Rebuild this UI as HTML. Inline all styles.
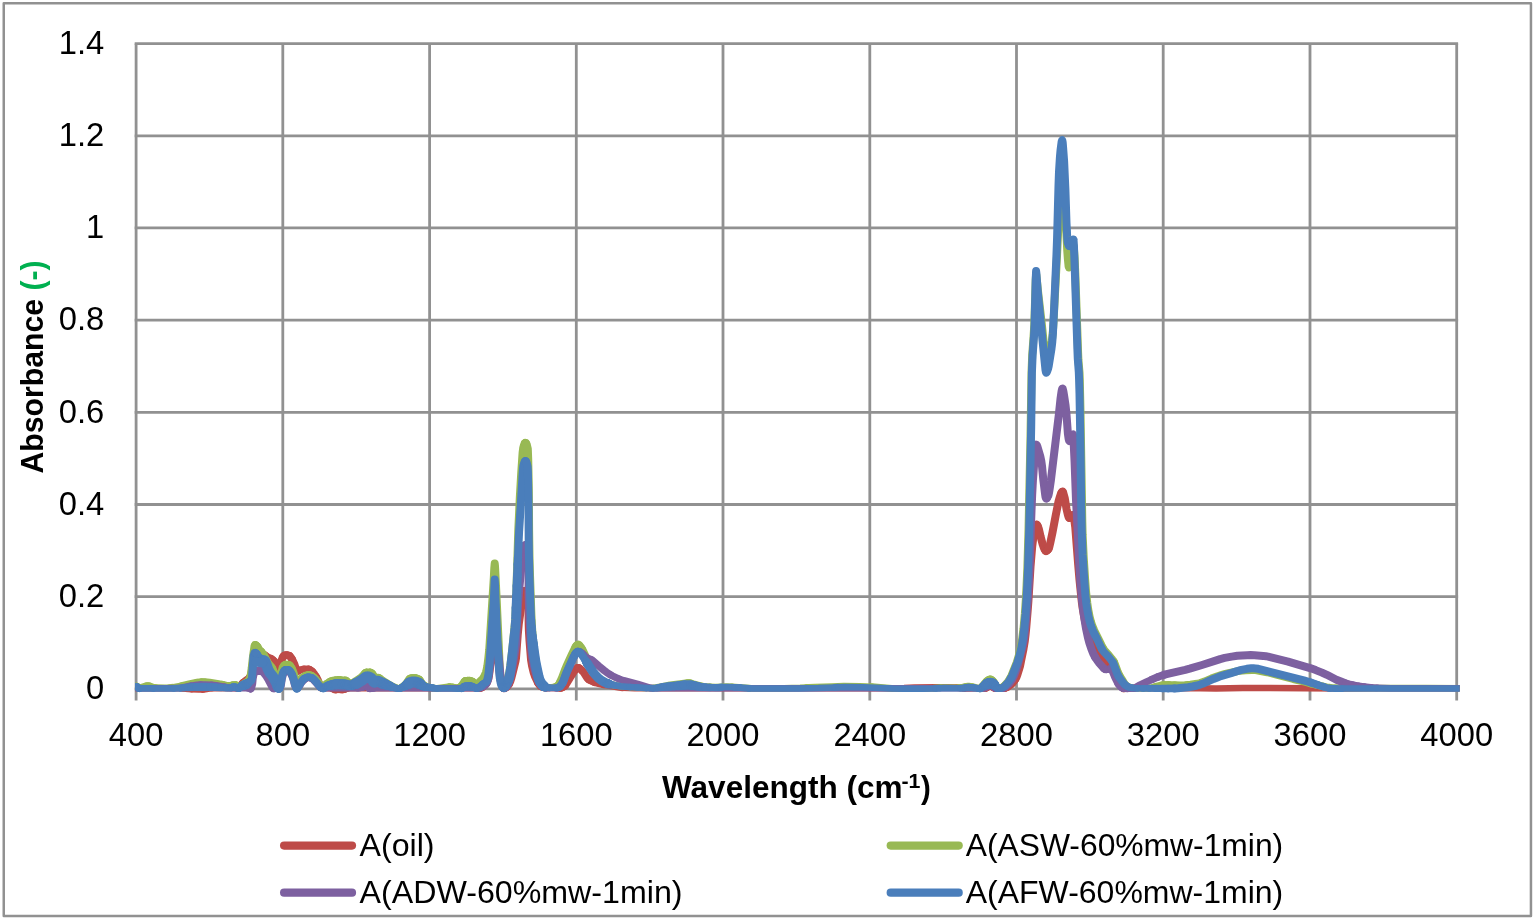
<!DOCTYPE html>
<html lang="en"><head><meta charset="utf-8"><title>Absorbance vs Wavelength</title>
<style>
html,body{margin:0;padding:0;background:#fff;}
body{width:1534px;height:920px;overflow:hidden;}
svg{display:block;}
text{font-family:"Liberation Sans",sans-serif;fill:#000;}
.b{font-weight:bold;}
</style></head><body>
<svg width="1534" height="920" viewBox="0 0 1534 920">
<rect x="0" y="0" width="1534" height="920" fill="#fff"/>
<rect x="3.75" y="3.15" width="1527.2" height="912.85" fill="none" stroke="#919191" stroke-width="2.5" stroke-linejoin="round"/>
<clipPath id="cp"><rect x="135.45" y="0" width="1324.25" height="920"/></clipPath>
<g stroke="#919191" stroke-width="2.8" fill="none"><line x1="134.7" y1="43.6" x2="1458.1" y2="43.6"/><line x1="134.7" y1="135.8" x2="1458.1" y2="135.8"/><line x1="134.7" y1="227.9" x2="1458.1" y2="227.9"/><line x1="134.7" y1="320.1" x2="1458.1" y2="320.1"/><line x1="134.7" y1="412.3" x2="1458.1" y2="412.3"/><line x1="134.7" y1="504.5" x2="1458.1" y2="504.5"/><line x1="134.7" y1="596.6" x2="1458.1" y2="596.6"/><line x1="134.7" y1="688.8" x2="1458.1" y2="688.8"/><line x1="136.1" y1="43.6" x2="136.1" y2="700.4"/><line x1="282.8" y1="43.6" x2="282.8" y2="700.4"/><line x1="429.6" y1="43.6" x2="429.6" y2="700.4"/><line x1="576.3" y1="43.6" x2="576.3" y2="700.4"/><line x1="723.0" y1="43.6" x2="723.0" y2="700.4"/><line x1="869.8" y1="43.6" x2="869.8" y2="700.4"/><line x1="1016.5" y1="43.6" x2="1016.5" y2="700.4"/><line x1="1163.2" y1="43.6" x2="1163.2" y2="700.4"/><line x1="1310.0" y1="43.6" x2="1310.0" y2="700.4"/><line x1="1456.7" y1="43.6" x2="1456.7" y2="700.4"/></g>
<g clip-path="url(#cp)">
<g fill="none" stroke="#BE4B48" stroke-linejoin="round" stroke-linecap="round"><path d="M133.4 688.2 L180.0 688.2 L182.4 688.3" stroke-width="6.50"/><path d="M182.4 688.3 L191.5 689.2" stroke-width="6.75"/><path d="M191.5 689.2 L198.9 689.5 L203.1 689.5" stroke-width="6.50"/><path d="M203.1 689.5 L205.2 689.2 L209.4 688.4 L211.5 688.2" stroke-width="6.75"/><path d="M211.5 688.2 L237.4 688.2" stroke-width="6.50"/><path d="M237.4 688.2 L238.0 688.2" stroke-width="6.75"/><path d="M238.0 688.2 L238.4 688.1" stroke-width="7.00"/><path d="M238.4 688.1 L238.8 687.9" stroke-width="7.25"/><path d="M238.8 687.9 L239.5 687.2" stroke-width="7.50"/><path d="M239.5 687.2 L241.6 684.4 L243.0 682.9" stroke-width="7.75"/><path d="M243.0 682.9 L245.4 680.8 L249.3 678.0" stroke-width="7.50"/><path d="M249.3 678.0 L250.3 676.7" stroke-width="7.75"/><path d="M250.3 676.7 L251.0 675.4 L251.4 674.0 L252.4 667.6 L253.3 659.0 L254.2 654.5 L254.5 653.4 L254.9 653.0" stroke-width="8.00"/><path d="M254.9 653.0 L255.2 653.0" stroke-width="7.75"/><path d="M255.2 653.0 L255.6 653.0" stroke-width="7.50"/><path d="M255.6 653.0 L255.9 653.0" stroke-width="7.00"/><path d="M255.9 653.0 L258.4 653.0" stroke-width="6.50"/><path d="M258.4 653.0 L260.5 653.3" stroke-width="6.75"/><path d="M260.5 653.3 L262.6 654.0" stroke-width="7.00"/><path d="M262.6 654.0 L264.3 654.8 L265.4 655.4" stroke-width="7.25"/><path d="M265.4 655.4 L268.5 657.7" stroke-width="7.50"/><path d="M268.5 657.7 L271.3 658.7" stroke-width="7.25"/><path d="M271.3 658.7 L272.4 659.5 L273.8 660.9" stroke-width="7.50"/><path d="M273.8 660.9 L277.0 664.1 L279.0 667.1 L279.4 667.4 L279.8 667.5" stroke-width="7.75"/><path d="M279.8 667.5 L280.1 667.2 L280.4 666.1 L281.8 659.7 L282.5 658.0 L283.2 656.7" stroke-width="8.00"/><path d="M283.2 656.7 L283.9 655.9" stroke-width="7.75"/><path d="M283.9 655.9 L284.6 655.4" stroke-width="7.50"/><path d="M284.6 655.4 L285.3 655.1" stroke-width="7.25"/><path d="M285.3 655.1 L286.4 654.9" stroke-width="7.00"/><path d="M286.4 654.9 L287.8 655.1" stroke-width="6.75"/><path d="M287.8 655.1 L288.5 655.3" stroke-width="7.00"/><path d="M288.5 655.3 L289.2 655.6" stroke-width="7.25"/><path d="M289.2 655.6 L289.9 656.2" stroke-width="7.50"/><path d="M289.9 656.2 L292.0 659.2" stroke-width="7.75"/><path d="M292.0 659.2 L294.1 663.6 L295.5 667.8 L296.2 669.4" stroke-width="8.00"/><path d="M296.2 669.4 L296.9 670.5 L297.2 670.9" stroke-width="7.75"/><path d="M297.2 670.9 L297.6 671.0" stroke-width="7.50"/><path d="M297.6 671.0 L298.3 670.8" stroke-width="7.25"/><path d="M298.3 670.8 L299.1 670.4" stroke-width="7.00"/><path d="M299.1 670.4 L299.7 670.2" stroke-width="7.25"/><path d="M299.7 670.2 L301.4 669.6 L303.9 669.0" stroke-width="7.00"/><path d="M303.9 669.0 L305.6 668.8 L308.4 669.1" stroke-width="6.75"/><path d="M308.4 669.1 L309.1 669.3" stroke-width="7.00"/><path d="M309.1 669.3 L310.2 669.9" stroke-width="7.25"/><path d="M310.2 669.9 L312.3 671.5" stroke-width="7.50"/><path d="M312.3 671.5 L314.0 673.7 L316.1 677.0" stroke-width="7.75"/><path d="M316.1 677.0 L317.5 679.6 L319.3 684.1 L320.0 685.5" stroke-width="8.00"/><path d="M320.0 685.5 L321.4 687.5" stroke-width="7.75"/><path d="M321.4 687.5 L322.1 688.1" stroke-width="7.50"/><path d="M322.1 688.1 L322.5 688.2" stroke-width="7.25"/><path d="M322.5 688.2 L322.8 688.2" stroke-width="7.00"/><path d="M322.8 688.2 L323.5 688.2" stroke-width="6.75"/><path d="M323.5 688.2 L331.0 688.2" stroke-width="6.50"/><path d="M331.0 688.2 L331.9 688.3" stroke-width="6.75"/><path d="M331.9 688.3 L332.9 688.7" stroke-width="7.00"/><path d="M332.9 688.7 L334.3 689.4" stroke-width="7.25"/><path d="M334.3 689.4 L335.7 689.8" stroke-width="7.00"/><path d="M335.7 689.8 L336.4 689.8" stroke-width="6.75"/><path d="M336.4 689.8 L342.0 689.9" stroke-width="6.50"/><path d="M342.0 689.9 L343.1 689.7" stroke-width="6.75"/><path d="M343.1 689.7 L344.8 689.1" stroke-width="7.00"/><path d="M344.8 689.1 L345.5 688.8" stroke-width="7.25"/><path d="M345.5 688.8 L347.3 688.3" stroke-width="7.00"/><path d="M347.3 688.3 L348.0 688.2" stroke-width="6.75"/><path d="M348.0 688.2 L479.9 688.2" stroke-width="6.50"/><path d="M479.9 688.2 L480.6 688.1" stroke-width="6.75"/><path d="M480.6 688.1 L481.3 687.9" stroke-width="7.00"/><path d="M481.3 687.9 L482.4 687.3" stroke-width="7.25"/><path d="M482.4 687.3 L484.5 685.5" stroke-width="7.50"/><path d="M484.5 685.5 L485.5 684.4 L486.6 682.8" stroke-width="7.75"/><path d="M486.6 682.8 L487.6 680.5 L488.3 678.5 L489.0 675.4 L492.9 645.9 L494.3 629.8 L494.7 628.0 L495.0 629.0 L495.3 632.2 L496.4 645.0 L498.5 660.9 L499.9 675.8 L500.2 678.7 L500.6 680.4 L501.6 684.1 L502.3 686.1 L503.0 687.5" stroke-width="8.00"/><path d="M503.0 687.5 L503.7 688.1" stroke-width="7.75"/><path d="M503.7 688.1 L504.0 688.2" stroke-width="7.50"/><path d="M504.0 688.2 L504.4 688.2" stroke-width="7.25"/><path d="M504.4 688.2 L505.5 688.0" stroke-width="7.00"/><path d="M505.5 688.0 L506.2 687.6" stroke-width="7.25"/><path d="M506.2 687.6 L507.2 686.5" stroke-width="7.50"/><path d="M507.2 686.5 L508.3 685.2 L509.0 684.1" stroke-width="7.75"/><path d="M509.0 684.1 L510.2 681.6 L511.4 677.7 L512.8 672.3 L515.6 660.7 L516.0 658.3 L517.7 635.1 L518.8 623.7 L523.0 593.9 L523.3 592.7 L524.0 591.5" stroke-width="8.00"/><path d="M524.0 591.5 L524.4 591.2" stroke-width="7.75"/><path d="M524.4 591.2 L525.1 590.7 L525.4 590.6" stroke-width="7.50"/><path d="M525.4 590.6 L525.5 590.6" stroke-width="7.25"/><path d="M525.5 590.6 L526.1 590.8 L526.5 591.1" stroke-width="7.50"/><path d="M526.5 591.1 L526.8 591.5" stroke-width="7.75"/><path d="M526.8 591.5 L527.6 593.0 L527.9 595.3 L528.5 609.1 L528.7 624.6 L528.9 631.0 L529.6 642.0 L531.0 659.5 L532.1 666.1 L533.5 671.9 L535.2 676.9 L538.0 682.8" stroke-width="8.00"/><path d="M538.0 682.8 L539.1 684.5 L540.1 685.6" stroke-width="7.75"/><path d="M540.1 685.6 L541.5 686.6" stroke-width="7.50"/><path d="M541.5 686.6 L543.3 687.4" stroke-width="7.25"/><path d="M543.3 687.4 L545.0 688.0" stroke-width="7.00"/><path d="M545.0 688.0 L546.4 688.1" stroke-width="6.75"/><path d="M546.4 688.1 L560.0 688.3" stroke-width="6.50"/><path d="M560.0 688.3 L560.8 688.2" stroke-width="6.75"/><path d="M560.8 688.2 L561.8 687.8" stroke-width="7.00"/><path d="M561.8 687.8 L563.2 687.0" stroke-width="7.25"/><path d="M563.2 687.0 L565.0 685.7" stroke-width="7.50"/><path d="M565.0 685.7 L565.7 684.9 L566.7 683.3 L569.9 677.9 L573.4 672.4 L574.4 670.9 L576.2 668.9" stroke-width="7.75"/><path d="M576.2 668.9 L577.2 668.0" stroke-width="7.50"/><path d="M577.2 668.0 L577.6 667.8 L578.3 667.7" stroke-width="7.25"/><path d="M578.3 667.7 L578.6 667.8" stroke-width="7.00"/><path d="M578.6 667.8 L579.7 668.4" stroke-width="7.25"/><path d="M579.7 668.4 L581.8 670.3" stroke-width="7.50"/><path d="M581.8 670.3 L583.5 672.2 L587.0 677.6 L588.4 679.2" stroke-width="7.75"/><path d="M588.4 679.2 L590.2 680.4" stroke-width="7.50"/><path d="M590.2 680.4 L592.3 681.5 L594.4 682.4" stroke-width="7.25"/><path d="M594.4 682.4 L598.6 683.6 L603.9 684.8" stroke-width="7.00"/><path d="M603.9 684.8 L619.2 687.5 L622.4 687.8" stroke-width="6.75"/><path d="M622.4 687.8 L629.0 688.1 L634.6 688.2 L900.0 688.2 L904.1 688.1 L914.3 687.6 L935.3 687.3 L947.2 687.2 L957.0 687.6" stroke-width="6.50"/><path d="M957.0 687.6 L964.0 688.5" stroke-width="6.75"/><path d="M964.0 688.5 L967.5 688.5 L979.0 688.2 L985.0 688.3" stroke-width="6.50"/><path d="M985.0 688.3 L985.3 688.3" stroke-width="6.75"/><path d="M985.3 688.3 L986.4 687.9" stroke-width="7.00"/><path d="M986.4 687.9 L989.2 686.3" stroke-width="7.25"/><path d="M989.2 686.3 L990.3 686.0 L991.3 686.3" stroke-width="7.00"/><path d="M991.3 686.3 L994.1 688.0" stroke-width="7.25"/><path d="M994.1 688.0 L995.0 688.2" stroke-width="7.00"/><path d="M995.0 688.2 L995.5 688.2" stroke-width="6.75"/><path d="M995.5 688.2 L1000.4 688.2" stroke-width="6.50"/><path d="M1000.4 688.2 L1003.2 688.6 L1004.6 688.5" stroke-width="6.75"/><path d="M1004.6 688.5 L1005.6 688.1" stroke-width="7.00"/><path d="M1005.6 688.1 L1007.7 687.0" stroke-width="7.25"/><path d="M1007.7 687.0 L1010.5 685.0 L1011.9 683.7" stroke-width="7.50"/><path d="M1011.9 683.7 L1013.7 681.7 L1015.4 679.1" stroke-width="7.75"/><path d="M1015.4 679.1 L1016.5 677.0 L1017.5 674.3 L1018.9 669.9 L1020.0 666.1 L1021.0 661.3 L1023.5 648.9 L1024.8 641.0 L1025.6 634.3 L1026.3 627.2 L1027.7 610.5 L1028.4 601.2 L1030.5 567.0 L1032.2 546.4 L1033.0 540.0 L1034.3 531.6 L1035.4 527.3 L1036.4 524.8" stroke-width="8.00"/><path d="M1036.4 524.8 L1036.8 524.5 L1037.1 524.7 L1037.8 526.2" stroke-width="7.75"/><path d="M1037.8 526.2 L1038.9 529.2 L1040.6 536.6 L1042.7 544.5 L1043.8 547.6 L1044.8 549.7" stroke-width="8.00"/><path d="M1044.8 549.7 L1045.5 550.8 L1045.9 551.1" stroke-width="7.75"/><path d="M1045.9 551.1 L1046.2 551.2 L1046.6 551.1 L1046.9 550.9 L1047.6 550.2" stroke-width="7.50"/><path d="M1047.6 550.2 L1048.5 549.0" stroke-width="7.75"/><path d="M1048.5 549.0 L1049.0 547.8 L1049.4 546.7 L1050.4 542.4 L1052.5 532.4 L1055.7 515.5 L1058.5 501.6 L1059.5 498.0 L1060.9 493.9 L1061.6 492.4" stroke-width="8.00"/><path d="M1061.6 492.4 L1062.0 492.0 L1062.3 491.7 L1062.7 491.8" stroke-width="7.75"/><path d="M1062.7 491.8 L1063.0 492.3 L1063.4 493.2 L1064.8 498.3 L1066.5 508.9 L1067.9 514.8 L1068.6 517.1 L1069.0 517.7 L1069.3 517.9" stroke-width="8.00"/><path d="M1069.3 517.9 L1069.7 517.8" stroke-width="7.75"/><path d="M1069.7 517.8 L1070.7 516.7 L1072.5 515.3" stroke-width="7.50"/><path d="M1072.5 515.3 L1073.0 515.2" stroke-width="7.75"/><path d="M1073.0 515.2 L1073.2 515.3 L1073.5 516.2 L1073.9 517.8 L1074.6 522.2 L1075.3 527.6 L1078.1 563.8 L1079.5 580.0 L1080.9 593.7 L1081.9 602.7 L1082.6 607.8 L1083.7 614.0 L1084.7 619.3 L1085.8 623.8 L1086.8 627.5 L1087.9 630.6 L1089.6 635.0 L1094.5 645.4 L1096.3 649.0 L1097.7 651.5" stroke-width="8.00"/><path d="M1097.7 651.5 L1099.4 654.2 L1101.2 656.6 L1102.6 658.3 L1105.4 661.3" stroke-width="7.75"/><path d="M1105.4 661.3 L1106.4 662.3 L1107.1 662.8" stroke-width="7.50"/><path d="M1107.1 662.8 L1107.8 663.1" stroke-width="7.25"/><path d="M1107.8 663.1 L1108.5 663.1 L1110.3 662.3 L1111.0 662.2" stroke-width="7.00"/><path d="M1111.0 662.2 L1111.3 662.3" stroke-width="7.25"/><path d="M1111.3 662.3 L1111.7 662.5 L1112.4 663.3" stroke-width="7.50"/><path d="M1112.4 663.3 L1113.4 664.9" stroke-width="7.75"/><path d="M1113.4 664.9 L1114.5 667.4 L1119.0 680.9 L1119.7 682.5 L1121.1 685.2" stroke-width="8.00"/><path d="M1121.1 685.2 L1122.2 687.0 L1122.9 687.9" stroke-width="7.75"/><path d="M1122.9 687.9 L1123.6 688.4" stroke-width="7.50"/><path d="M1123.6 688.4 L1124.0 688.5" stroke-width="7.25"/><path d="M1124.0 688.5 L1124.3 688.5" stroke-width="7.00"/><path d="M1124.3 688.5 L1125.0 688.5" stroke-width="6.75"/><path d="M1125.0 688.5 L1126.4 688.4" stroke-width="6.50"/><path d="M1126.4 688.4 L1128.1 688.3" stroke-width="6.75"/><path d="M1128.1 688.3 L1200.2 688.2 L1216.0 688.5 L1242.9 688.0 L1252.4 687.9 L1340.2 688.6 L1377.7 688.2 L1461.7 688.2" stroke-width="6.50"/></g>
<g fill="none" stroke="#98B954" stroke-linejoin="round" stroke-linecap="round"><path d="M133.4 686.0 L135.4 686.0" stroke-width="6.50"/><path d="M135.4 686.0 L136.2 686.1" stroke-width="6.75"/><path d="M136.2 686.1 L137.3 686.5" stroke-width="7.00"/><path d="M137.3 686.5 L138.3 687.1" stroke-width="7.25"/><path d="M138.3 687.1 L139.7 687.5" stroke-width="7.00"/><path d="M139.7 687.5 L141.5 687.3" stroke-width="6.75"/><path d="M141.5 687.3 L146.4 685.8" stroke-width="7.00"/><path d="M146.4 685.8 L147.8 685.7 L149.2 685.9" stroke-width="6.75"/><path d="M149.2 685.9 L152.7 687.1 L154.1 687.5" stroke-width="7.00"/><path d="M154.1 687.5 L155.5 687.6" stroke-width="6.75"/><path d="M155.5 687.6 L164.6 687.8 L169.5 687.7" stroke-width="6.50"/><path d="M169.5 687.7 L173.3 687.2 L181.7 685.7" stroke-width="6.75"/><path d="M181.7 685.7 L190.1 683.7 L197.1 682.3" stroke-width="7.00"/><path d="M197.1 682.3 L199.6 681.8 L201.7 681.6" stroke-width="6.75"/><path d="M201.7 681.6 L204.8 681.7" stroke-width="6.50"/><path d="M204.8 681.7 L209.7 682.2 L218.8 683.7 L222.0 684.3" stroke-width="6.75"/><path d="M222.0 684.3 L222.7 684.4" stroke-width="7.00"/><path d="M222.7 684.4 L226.2 685.1 L229.0 685.4" stroke-width="6.75"/><path d="M229.0 685.4 L230.0 685.4" stroke-width="6.50"/><path d="M230.0 685.4 L231.8 685.1" stroke-width="6.75"/><path d="M231.8 685.1 L232.5 684.9" stroke-width="7.00"/><path d="M232.5 684.9 L233.9 684.7 L234.9 684.8" stroke-width="6.75"/><path d="M234.9 684.8 L235.6 685.1" stroke-width="7.00"/><path d="M235.6 685.1 L236.0 685.2" stroke-width="7.25"/><path d="M236.0 685.2 L236.3 685.5" stroke-width="7.50"/><path d="M236.3 685.5 L236.7 686.2" stroke-width="7.75"/><path d="M236.7 686.2 L237.4 687.6 L237.7 688.0 L238.4 687.9" stroke-width="7.50"/><path d="M238.4 687.9 L239.5 687.4" stroke-width="7.25"/><path d="M239.5 687.4 L241.9 685.3 L245.1 682.8 L248.2 680.8" stroke-width="7.50"/><path d="M248.2 680.8 L248.9 680.1 L249.3 679.5" stroke-width="7.75"/><path d="M249.3 679.5 L250.3 676.8 L251.0 673.5 L251.7 668.4 L253.1 655.8 L254.2 648.2 L254.5 646.0 L254.9 645.1 L255.2 645.1" stroke-width="8.00"/><path d="M255.2 645.1 L255.6 645.2" stroke-width="7.75"/><path d="M255.6 645.2 L255.9 645.4" stroke-width="7.50"/><path d="M255.9 645.4 L256.6 645.8" stroke-width="7.25"/><path d="M256.6 645.8 L257.3 646.4" stroke-width="7.50"/><path d="M257.3 646.4 L258.0 647.3 L259.4 650.0 L260.8 651.2" stroke-width="7.75"/><path d="M260.8 651.2 L261.2 651.5" stroke-width="7.50"/><path d="M261.2 651.5 L262.9 653.5 L264.3 655.9" stroke-width="7.75"/><path d="M264.3 655.9 L267.5 662.1" stroke-width="8.00"/><path d="M267.5 662.1 L268.5 663.6 L270.6 665.9 L272.2 668.2" stroke-width="7.75"/><path d="M272.2 668.2 L273.1 670.1 L274.3 673.3 L276.2 680.6 L277.6 685.1 L278.7 687.8 L279.0 688.3 L279.2 688.4 L279.4 688.0 L279.7 686.0 L280.8 677.0 L281.8 670.9 L282.5 668.1 L283.6 666.2" stroke-width="8.00"/><path d="M283.6 666.2 L284.6 665.1" stroke-width="7.75"/><path d="M284.6 665.1 L285.0 664.8" stroke-width="7.50"/><path d="M285.0 664.8 L285.7 664.5" stroke-width="7.25"/><path d="M285.7 664.5 L286.4 664.3 L287.1 664.2 L287.8 664.3 L288.5 664.6" stroke-width="7.00"/><path d="M288.5 664.6 L289.2 665.0" stroke-width="7.25"/><path d="M289.2 665.0 L289.9 665.4" stroke-width="7.50"/><path d="M289.9 665.4 L290.6 666.3 L291.6 668.1" stroke-width="7.75"/><path d="M291.6 668.1 L293.0 671.2 L294.4 675.4 L295.8 680.8 L296.5 684.9 L296.8 685.5 L297.2 685.2 L297.9 683.9" stroke-width="8.00"/><path d="M297.9 683.9 L299.1 681.5 L300.7 679.5 L302.1 678.0" stroke-width="7.75"/><path d="M302.1 678.0 L303.9 676.5 L304.9 675.8" stroke-width="7.50"/><path d="M304.9 675.8 L306.7 675.0" stroke-width="7.25"/><path d="M306.7 675.0 L308.1 674.6" stroke-width="7.00"/><path d="M308.1 674.6 L309.5 674.7" stroke-width="6.75"/><path d="M309.5 674.7 L310.9 675.2" stroke-width="7.00"/><path d="M310.9 675.2 L311.9 675.7" stroke-width="7.25"/><path d="M311.9 675.7 L313.0 676.5 L314.7 678.2" stroke-width="7.50"/><path d="M314.7 678.2 L316.1 679.6 L318.0 681.9 L321.7 686.9" stroke-width="7.75"/><path d="M321.7 686.9 L322.4 687.7 L322.8 688.0 L323.1 688.0 L323.8 687.4" stroke-width="7.50"/><path d="M323.8 687.4 L325.2 685.2 L326.3 684.1" stroke-width="7.75"/><path d="M326.3 684.1 L327.7 683.0 L329.4 681.8" stroke-width="7.50"/><path d="M329.4 681.8 L331.9 680.6" stroke-width="7.25"/><path d="M331.9 680.6 L335.0 679.8" stroke-width="7.00"/><path d="M335.0 679.8 L338.2 679.4" stroke-width="6.75"/><path d="M338.2 679.4 L340.6 679.5" stroke-width="6.50"/><path d="M340.6 679.5 L344.8 680.0" stroke-width="6.75"/><path d="M344.8 680.0 L345.5 680.2" stroke-width="7.00"/><path d="M345.5 680.2 L346.6 680.8" stroke-width="7.25"/><path d="M346.6 680.8 L349.4 683.1" stroke-width="7.50"/><path d="M349.4 683.1 L350.1 683.4" stroke-width="7.25"/><path d="M350.1 683.4 L351.1 683.5 L352.2 683.1" stroke-width="7.00"/><path d="M352.2 683.1 L353.6 682.3" stroke-width="7.25"/><path d="M353.6 682.3 L355.7 680.8 L359.9 678.1 L362.7 675.9" stroke-width="7.50"/><path d="M362.7 675.9 L365.1 673.0" stroke-width="7.75"/><path d="M365.1 673.0 L365.8 672.5 L366.2 672.3" stroke-width="7.50"/><path d="M366.2 672.3 L366.5 672.3" stroke-width="7.25"/><path d="M366.5 672.3 L366.9 672.2" stroke-width="7.00"/><path d="M366.9 672.2 L369.4 672.0" stroke-width="6.75"/><path d="M369.4 672.0 L370.4 672.3" stroke-width="7.00"/><path d="M370.4 672.3 L371.1 672.7" stroke-width="7.25"/><path d="M371.1 672.7 L371.8 673.3" stroke-width="7.50"/><path d="M371.8 673.3 L372.6 674.2" stroke-width="7.75"/><path d="M372.6 674.2 L373.2 675.6" stroke-width="8.00"/><path d="M373.2 675.6 L373.9 677.8 L374.2 678.4 L374.6 678.5" stroke-width="7.75"/><path d="M374.6 678.5 L375.3 678.3" stroke-width="7.50"/><path d="M375.3 678.3 L376.0 677.9" stroke-width="7.25"/><path d="M376.0 677.9 L377.4 677.3 L378.1 677.4 L378.8 677.6" stroke-width="7.00"/><path d="M378.8 677.6 L379.8 678.3" stroke-width="7.25"/><path d="M379.8 678.3 L382.3 680.2 L386.5 682.9" stroke-width="7.50"/><path d="M386.5 682.9 L392.1 686.0 L396.6 688.0" stroke-width="7.25"/><path d="M396.6 688.0 L398.4 688.5" stroke-width="7.00"/><path d="M398.4 688.5 L399.4 688.4" stroke-width="6.75"/><path d="M399.4 688.4 L400.5 688.1" stroke-width="7.00"/><path d="M400.5 688.1 L401.9 687.3" stroke-width="7.25"/><path d="M401.9 687.3 L405.1 684.8" stroke-width="7.50"/><path d="M405.1 684.8 L406.1 683.7 L408.5 680.0 L409.6 678.8" stroke-width="7.75"/><path d="M409.6 678.8 L410.3 678.4" stroke-width="7.50"/><path d="M410.3 678.4 L411.0 678.1" stroke-width="7.25"/><path d="M411.0 678.1 L412.7 677.6" stroke-width="7.00"/><path d="M412.7 677.6 L413.9 677.5 L415.2 677.7" stroke-width="6.75"/><path d="M415.2 677.7 L416.6 678.1" stroke-width="7.00"/><path d="M416.6 678.1 L418.7 679.1" stroke-width="7.25"/><path d="M418.7 679.1 L419.7 679.9" stroke-width="7.50"/><path d="M419.7 679.9 L422.5 684.1 L423.6 685.2" stroke-width="7.75"/><path d="M423.6 685.2 L424.3 685.6" stroke-width="7.50"/><path d="M424.3 685.6 L425.7 686.2" stroke-width="7.25"/><path d="M425.7 686.2 L428.1 686.9 L432.7 687.9" stroke-width="7.00"/><path d="M432.7 687.9 L435.8 688.3" stroke-width="6.75"/><path d="M435.8 688.3 L437.2 688.3" stroke-width="6.50"/><path d="M437.2 688.3 L446.3 687.0 L449.1 686.7" stroke-width="6.75"/><path d="M449.1 686.7 L450.2 686.7" stroke-width="6.50"/><path d="M450.2 686.7 L451.6 686.8 L453.0 687.1" stroke-width="6.75"/><path d="M453.0 687.1 L455.4 687.6" stroke-width="7.00"/><path d="M455.4 687.6 L457.2 687.9 L458.2 687.8" stroke-width="6.75"/><path d="M458.2 687.8 L458.9 687.6" stroke-width="7.00"/><path d="M458.9 687.6 L460.3 686.8" stroke-width="7.25"/><path d="M460.3 686.8 L461.4 686.0" stroke-width="7.50"/><path d="M461.4 686.0 L462.1 685.2 L464.2 681.9 L464.9 681.2" stroke-width="7.75"/><path d="M464.9 681.2 L465.2 681.0" stroke-width="7.50"/><path d="M465.2 681.0 L465.9 680.7" stroke-width="7.25"/><path d="M465.9 680.7 L467.3 680.4" stroke-width="7.00"/><path d="M467.3 680.4 L468.7 680.2 L469.8 680.3" stroke-width="6.75"/><path d="M469.8 680.3 L470.8 680.7" stroke-width="7.00"/><path d="M470.8 680.7 L472.2 681.4" stroke-width="7.25"/><path d="M472.2 681.4 L472.9 681.9" stroke-width="7.50"/><path d="M472.9 681.9 L473.6 682.7 L475.4 685.3" stroke-width="7.75"/><path d="M475.4 685.3 L476.1 685.9 L476.5 686.0 L476.8 685.9" stroke-width="7.50"/><path d="M476.8 685.9 L477.5 685.0 L479.0 682.3 L482.4 678.9 L483.8 677.1 L484.5 676.0" stroke-width="7.75"/><path d="M484.5 676.0 L485.2 674.5 L485.9 672.5 L486.6 669.8 L487.3 666.4 L488.3 658.5 L489.2 650.0 L489.7 642.5 L493.8 578.0 L494.3 568.0 L494.7 563.5 L495.0 566.1 L496.4 593.7 L499.9 670.7 L500.6 678.0 L501.3 682.8 L501.6 684.1 L502.7 686.7" stroke-width="8.00"/><path d="M502.7 686.7 L503.4 687.7 L503.7 687.9 L504.1 688.0 L504.4 687.6 L505.3 686.0" stroke-width="7.75"/><path d="M505.3 686.0 L506.5 683.2 L507.6 680.0 L509.0 674.2 L510.0 668.4 L512.5 647.5 L514.9 623.3 L515.4 617.0 L516.0 602.7 L518.3 530.0 L519.8 497.7 L521.2 473.4 L522.6 452.8 L523.2 448.0 L524.0 445.0 L524.7 443.4 L525.1 443.0" stroke-width="8.00"/><path d="M525.1 443.0 L525.5 442.8 L525.8 442.9 L526.1 443.3" stroke-width="7.75"/><path d="M526.1 443.3 L526.8 444.8 L527.8 449.0 L528.2 458.8 L528.8 488.0 L529.1 530.0 L529.5 557.0 L530.0 575.0 L531.4 615.2 L532.1 628.6 L532.8 637.4 L533.8 647.5 L534.9 655.5 L535.9 662.2 L537.7 671.2 L539.1 677.2 L540.0 680.0 L541.5 683.1" stroke-width="8.00"/><path d="M541.5 683.1 L542.2 684.2 L543.0 685.0" stroke-width="7.75"/><path d="M543.0 685.0 L544.7 686.3" stroke-width="7.50"/><path d="M544.7 686.3 L545.7 686.8" stroke-width="7.25"/><path d="M545.7 686.8 L546.5 687.0" stroke-width="7.00"/><path d="M546.5 687.0 L549.2 687.3" stroke-width="6.75"/><path d="M549.2 687.3 L551.7 687.3" stroke-width="6.50"/><path d="M551.7 687.3 L554.8 686.8" stroke-width="6.75"/><path d="M554.8 686.8 L556.2 686.4" stroke-width="7.00"/><path d="M556.2 686.4 L557.6 685.7" stroke-width="7.25"/><path d="M557.6 685.7 L558.0 685.5" stroke-width="7.50"/><path d="M558.0 685.5 L558.7 684.8 L559.7 682.9" stroke-width="7.75"/><path d="M559.7 682.9 L562.2 677.4 L565.0 669.8 L566.4 666.4 L572.0 654.2 L575.5 647.0" stroke-width="8.00"/><path d="M575.5 647.0 L576.2 645.9 L576.9 645.1" stroke-width="7.75"/><path d="M576.9 645.1 L577.6 644.5 L578.3 644.3 L579.0 644.7 L579.7 645.5" stroke-width="7.50"/><path d="M579.7 645.5 L580.7 646.8 L582.1 649.2" stroke-width="7.75"/><path d="M582.1 649.2 L583.5 651.9 L585.6 656.5 L588.4 664.0 L590.5 667.9" stroke-width="8.00"/><path d="M590.5 667.9 L592.3 670.7 L594.0 673.1 L596.1 675.5 L597.9 677.4" stroke-width="7.75"/><path d="M597.9 677.4 L600.3 679.5 L603.1 681.4" stroke-width="7.50"/><path d="M603.1 681.4 L605.2 682.5 L607.0 683.2" stroke-width="7.25"/><path d="M607.0 683.2 L610.1 684.2 L614.0 685.1" stroke-width="7.00"/><path d="M614.0 685.1 L621.0 686.2 L629.7 686.9" stroke-width="6.75"/><path d="M629.7 686.9 L637.4 687.3" stroke-width="6.50"/><path d="M637.4 687.3 L644.1 687.8" stroke-width="6.75"/><path d="M644.1 687.8 L653.2 688.0" stroke-width="6.50"/><path d="M653.2 688.0 L668.2 685.2 L684.0 683.1 L687.1 682.7" stroke-width="6.75"/><path d="M687.1 682.7 L688.8 682.7" stroke-width="6.50"/><path d="M688.8 682.7 L690.3 682.9" stroke-width="6.75"/><path d="M690.3 682.9 L693.4 683.9 L700.8 685.9" stroke-width="7.00"/><path d="M700.8 685.9 L703.9 686.3 L709.9 686.8" stroke-width="6.75"/><path d="M709.9 686.8 L715.5 687.0 L726.7 686.6 L731.9 686.8" stroke-width="6.50"/><path d="M731.9 686.8 L749.4 688.2" stroke-width="6.75"/><path d="M749.4 688.2 L752.6 688.3 L783.7 688.3 L800.2 687.8 L806.8 687.4" stroke-width="6.50"/><path d="M806.8 687.4 L808.9 687.3" stroke-width="6.75"/><path d="M808.9 687.3 L815.2 687.0 L832.0 686.5 L843.9 686.0 L860.0 686.3 L871.9 686.7" stroke-width="6.50"/><path d="M871.9 686.7 L891.9 688.3" stroke-width="6.75"/><path d="M891.9 688.3 L904.1 688.7 L919.9 688.7 L925.1 688.6 L934.2 688.2" stroke-width="6.50"/><path d="M934.2 688.2 L940.5 687.7" stroke-width="6.75"/><path d="M940.5 687.7 L944.6 687.6 L955.6 687.8 L958.7 687.7" stroke-width="6.50"/><path d="M958.7 687.7 L964.3 687.0" stroke-width="6.75"/><path d="M964.3 687.0 L966.8 686.4" stroke-width="7.00"/><path d="M966.8 686.4 L967.8 686.2 L968.9 686.2 L972.0 686.7" stroke-width="6.75"/><path d="M972.0 686.7 L974.1 687.2 L978.3 688.4" stroke-width="7.00"/><path d="M978.3 688.4 L979.7 688.5" stroke-width="6.75"/><path d="M979.7 688.5 L980.1 688.4" stroke-width="7.00"/><path d="M980.1 688.4 L980.8 688.0" stroke-width="7.25"/><path d="M980.8 688.0 L981.5 687.3" stroke-width="7.50"/><path d="M981.5 687.3 L985.7 682.3 L986.7 681.2" stroke-width="7.75"/><path d="M986.7 681.2 L988.5 679.9" stroke-width="7.50"/><path d="M988.5 679.9 L989.5 679.3" stroke-width="7.25"/><path d="M989.5 679.3 L990.6 679.2" stroke-width="7.00"/><path d="M990.6 679.2 L991.6 679.8" stroke-width="7.25"/><path d="M991.6 679.8 L993.0 681.1" stroke-width="7.50"/><path d="M993.0 681.1 L994.1 682.3 L996.2 686.1 L996.5 686.6 L997.2 687.2" stroke-width="7.75"/><path d="M997.2 687.2 L997.6 687.4" stroke-width="7.50"/><path d="M997.6 687.4 L997.9 687.6" stroke-width="7.25"/><path d="M997.9 687.6 L999.0 687.8" stroke-width="7.00"/><path d="M999.0 687.8 L1000.7 687.6" stroke-width="6.75"/><path d="M1000.7 687.6 L1002.5 687.1" stroke-width="7.00"/><path d="M1002.5 687.1 L1003.5 686.6" stroke-width="7.25"/><path d="M1003.5 686.6 L1004.9 685.3" stroke-width="7.50"/><path d="M1004.9 685.3 L1008.1 681.5 L1010.4 678.0" stroke-width="7.75"/><path d="M1010.4 678.0 L1011.6 675.6 L1012.6 673.1 L1016.8 662.4 L1018.9 655.3 L1020.7 647.7 L1022.1 639.7 L1023.5 628.5 L1024.9 613.3 L1025.9 598.6 L1026.6 585.0 L1027.4 567.0 L1028.5 530.0 L1030.5 436.5 L1031.5 373.0 L1032.2 355.1 L1033.6 336.0 L1034.3 324.3 L1035.7 280.6 L1036.1 274.0 L1036.4 275.6 L1038.2 292.8 L1041.7 323.2 L1045.5 360.0 L1046.2 364.5 L1046.6 365.8 L1046.8 366.0 L1046.9 366.0 L1047.3 365.5 L1047.6 364.7 L1048.7 361.2 L1049.4 357.4 L1051.8 341.3 L1052.5 335.5 L1052.9 331.5 L1053.6 320.6 L1057.1 254.1 L1059.8 195.0 L1060.9 180.0 L1061.6 174.9 L1062.0 173.3 L1062.2 173.0 L1062.3 173.2 L1062.7 174.9 L1063.0 177.7 L1063.7 184.7 L1064.1 189.6 L1065.1 207.7 L1067.2 249.7 L1067.8 258.0 L1068.6 266.3 L1069.0 267.5 L1069.3 267.1 L1069.7 265.9 L1070.7 260.4 L1071.8 251.1 L1072.5 248.1 L1073.2 246.2 L1073.5 246.0 L1073.9 248.2 L1074.6 258.0 L1075.3 273.5 L1078.1 352.6 L1078.4 359.8 L1079.5 372.5 L1079.8 379.8 L1080.5 412.2 L1082.3 521.8 L1082.6 534.5 L1083.7 557.5 L1085.1 578.9 L1086.1 592.3 L1087.2 602.5 L1088.2 609.5 L1089.6 616.7 L1091.0 622.0 L1092.4 626.2 L1094.2 630.4 L1098.7 639.5 L1101.5 645.3 L1102.9 648.0" stroke-width="8.00"/><path d="M1102.9 648.0 L1104.0 649.6 L1105.0 650.9 L1108.9 655.2 L1111.7 658.6 L1112.7 660.0 L1113.8 661.6" stroke-width="7.75"/><path d="M1113.8 661.6 L1114.8 664.0 L1118.0 672.6 L1119.4 675.5" stroke-width="8.00"/><path d="M1119.4 675.5 L1122.5 680.1 L1125.0 684.4 L1126.0 685.5" stroke-width="7.75"/><path d="M1126.0 685.5 L1127.1 686.2" stroke-width="7.50"/><path d="M1127.1 686.2 L1128.8 687.0" stroke-width="7.25"/><path d="M1128.8 687.0 L1131.6 687.7" stroke-width="7.00"/><path d="M1131.6 687.7 L1133.4 687.9 L1135.1 688.1" stroke-width="6.75"/><path d="M1135.1 688.1 L1139.3 688.3 L1143.2 688.3" stroke-width="6.50"/><path d="M1143.2 688.3 L1149.5 688.0" stroke-width="6.75"/><path d="M1149.5 688.0 L1151.9 687.7 L1155.8 686.6" stroke-width="7.00"/><path d="M1155.8 686.6 L1162.1 685.1" stroke-width="7.25"/><path d="M1162.1 685.1 L1164.5 684.8 L1168.4 684.9" stroke-width="7.50"/><path d="M1168.4 684.9 L1174.7 685.3" stroke-width="7.75"/><path d="M1174.7 685.3 L1179.9 685.5 L1184.8 685.3 L1190.4 684.8 L1197.1 683.8 L1200.2 683.0 L1204.4 681.6 L1211.4 678.6 L1217.7 676.2 L1221.2 675.1 L1225.4 673.9 L1235.6 671.6 L1239.8 670.7 L1245.4 670.2 L1251.7 669.9 L1254.1 669.9 L1256.9 670.3 L1267.1 672.2 L1276.5 674.5 L1293.3 679.0 L1305.6 681.9 L1310.8 683.4" stroke-width="8.00"/><path d="M1310.8 683.4 L1317.1 685.0" stroke-width="7.75"/><path d="M1317.1 685.0 L1323.4 686.5" stroke-width="7.50"/><path d="M1323.4 686.5 L1326.9 687.1 L1329.4 687.4" stroke-width="7.25"/><path d="M1329.4 687.4 L1335.7 687.9" stroke-width="7.00"/><path d="M1335.7 687.9 L1342.0 688.0" stroke-width="6.75"/><path d="M1342.0 688.0 L1426.7 688.0 L1461.7 688.3" stroke-width="6.50"/></g>
<g fill="none" stroke="#7D60A0" stroke-linejoin="round" stroke-linecap="round"><path d="M133.4 688.2 L164.9 688.2 L180.7 688.0" stroke-width="6.50"/><path d="M180.7 688.0 L183.8 687.5" stroke-width="6.75"/><path d="M183.8 687.5 L190.8 685.8" stroke-width="7.00"/><path d="M190.8 685.8 L196.8 684.9 L200.6 684.6" stroke-width="6.75"/><path d="M200.6 684.6 L204.8 684.5 L211.5 684.8" stroke-width="6.50"/><path d="M211.5 684.8 L216.4 685.3 L224.1 686.7" stroke-width="6.75"/><path d="M224.1 686.7 L228.3 687.8" stroke-width="7.00"/><path d="M228.3 687.8 L230.7 688.0" stroke-width="6.75"/><path d="M230.7 688.0 L235.3 688.2 L248.0 688.2" stroke-width="6.50"/><path d="M248.0 688.2 L250.0 688.5" stroke-width="6.75"/><path d="M250.0 688.5 L250.3 688.6" stroke-width="7.25"/><path d="M250.3 688.6 L250.6 688.6" stroke-width="7.50"/><path d="M250.6 688.6 L251.0 688.1" stroke-width="7.75"/><path d="M251.0 688.1 L251.7 685.9 L252.2 683.9 L252.8 677.7 L253.1 675.7" stroke-width="8.00"/><path d="M253.1 675.7 L253.8 672.8 L254.2 671.9 L254.5 671.6 L255.9 671.2 L258.0 670.9 L261.2 670.8 L261.9 671.0 L262.6 671.5 L264.3 673.1 L266.3 675.6 L268.9 680.0 L272.7 687.2 L273.4 688.1 L274.1 688.2" stroke-width="8.25"/><path d="M274.1 688.2 L274.5 688.2" stroke-width="8.00"/><path d="M274.5 688.2 L274.8 688.2" stroke-width="7.75"/><path d="M274.8 688.2 L275.2 688.2" stroke-width="7.50"/><path d="M275.2 688.2 L275.5 688.2" stroke-width="7.25"/><path d="M275.5 688.2 L275.9 688.2" stroke-width="7.00"/><path d="M275.9 688.2 L278.3 688.2" stroke-width="6.50"/><path d="M278.3 688.2 L278.7 688.2" stroke-width="6.75"/><path d="M278.7 688.2 L279.0 688.2" stroke-width="7.00"/><path d="M279.0 688.2 L279.2 688.2" stroke-width="7.25"/><path d="M279.2 688.2 L279.4 688.1" stroke-width="7.50"/><path d="M279.4 688.1 L279.7 687.7 L280.1 687.1" stroke-width="7.75"/><path d="M280.1 687.1 L280.8 685.3 L281.8 679.0 L282.5 676.1 L283.2 673.9 L284.3 671.4" stroke-width="8.00"/><path d="M284.3 671.4 L284.6 670.8 L285.0 670.6" stroke-width="7.75"/><path d="M285.0 670.6 L285.3 670.5" stroke-width="7.50"/><path d="M285.3 670.5 L285.7 670.4" stroke-width="7.25"/><path d="M285.7 670.4 L286.0 670.4" stroke-width="7.00"/><path d="M286.0 670.4 L287.4 670.3" stroke-width="6.75"/><path d="M287.4 670.3 L288.5 670.7" stroke-width="7.00"/><path d="M288.5 670.7 L289.2 671.1" stroke-width="7.25"/><path d="M289.2 671.1 L289.5 671.4" stroke-width="7.50"/><path d="M289.5 671.4 L290.2 672.2 L291.3 674.0" stroke-width="7.75"/><path d="M291.3 674.0 L292.0 675.4 L293.0 678.1 L293.7 680.3 L294.8 684.4 L295.8 686.9" stroke-width="8.00"/><path d="M295.8 686.9 L296.5 688.0 L297.0 688.2" stroke-width="7.75"/><path d="M297.0 688.2 L297.6 687.9 L298.6 686.8" stroke-width="7.50"/><path d="M298.6 686.8 L299.7 685.3 L301.4 682.4 L303.5 679.9" stroke-width="7.75"/><path d="M303.5 679.9 L304.2 679.3 L304.9 678.9" stroke-width="7.50"/><path d="M304.9 678.9 L306.7 678.0" stroke-width="7.25"/><path d="M306.7 678.0 L308.1 677.6" stroke-width="7.00"/><path d="M308.1 677.6 L308.8 677.6 L309.8 677.8" stroke-width="6.75"/><path d="M309.8 677.8 L311.2 678.2" stroke-width="7.00"/><path d="M311.2 678.2 L312.3 678.7" stroke-width="7.25"/><path d="M312.3 678.7 L313.3 679.5 L314.7 680.9" stroke-width="7.50"/><path d="M314.7 680.9 L319.6 686.4" stroke-width="7.75"/><path d="M319.6 686.4 L320.3 687.0 L321.1 687.5" stroke-width="7.50"/><path d="M321.1 687.5 L322.1 687.9" stroke-width="7.25"/><path d="M322.1 687.9 L323.1 688.2" stroke-width="7.00"/><path d="M323.1 688.2 L323.8 688.2" stroke-width="6.75"/><path d="M323.8 688.2 L358.1 688.2" stroke-width="6.50"/><path d="M358.1 688.2 L360.9 687.7" stroke-width="6.75"/><path d="M360.9 687.7 L362.3 687.4 L363.4 687.0" stroke-width="7.00"/><path d="M363.4 687.0 L364.8 686.3" stroke-width="7.25"/><path d="M364.8 686.3 L365.8 686.0 L366.5 686.0" stroke-width="7.00"/><path d="M366.5 686.0 L367.6 686.7" stroke-width="7.25"/><path d="M367.6 686.7 L369.0 688.1" stroke-width="7.50"/><path d="M369.0 688.1 L369.7 688.5 L370.0 688.5" stroke-width="7.25"/><path d="M370.0 688.5 L370.4 688.5" stroke-width="7.00"/><path d="M370.4 688.5 L371.1 688.5" stroke-width="6.75"/><path d="M371.1 688.5 L372.5 688.4" stroke-width="6.50"/><path d="M372.5 688.4 L374.2 688.3" stroke-width="6.75"/><path d="M374.2 688.3 L376.3 688.2 L410.0 688.2 L415.1 688.3 L420.0 688.2 L478.2 688.2" stroke-width="6.50"/><path d="M478.2 688.2 L479.6 688.0" stroke-width="6.75"/><path d="M479.6 688.0 L481.0 687.6" stroke-width="7.00"/><path d="M481.0 687.6 L483.8 686.1" stroke-width="7.25"/><path d="M483.8 686.1 L484.8 685.4" stroke-width="7.50"/><path d="M484.8 685.4 L485.9 684.2 L486.6 683.1" stroke-width="7.75"/><path d="M486.6 683.1 L488.0 680.0 L488.3 678.6 L489.0 673.7 L491.8 646.9 L494.3 618.2 L494.7 615.0 L495.0 617.0 L497.0 640.0 L499.0 660.0 L500.6 677.4 L500.9 679.8 L502.0 684.1 L502.7 686.3 L503.4 687.8" stroke-width="8.00"/><path d="M503.4 687.8 L503.7 688.1 L504.0 688.2" stroke-width="7.75"/><path d="M504.0 688.2 L504.4 688.1" stroke-width="7.50"/><path d="M504.4 688.1 L505.5 687.6" stroke-width="7.25"/><path d="M505.5 687.6 L506.2 687.0" stroke-width="7.50"/><path d="M506.2 687.0 L507.6 684.9" stroke-width="7.75"/><path d="M507.6 684.9 L508.3 683.6 L509.3 681.0 L510.0 678.8 L510.7 676.0 L512.5 666.7 L515.6 647.7 L516.0 644.2 L517.7 610.2 L518.8 593.6 L523.0 549.9 L523.3 548.2 L524.4 545.8" stroke-width="8.00"/><path d="M524.4 545.8 L525.1 545.1 L525.4 545.0" stroke-width="7.75"/><path d="M525.4 545.0 L525.8 545.1" stroke-width="7.50"/><path d="M525.8 545.1 L526.1 545.3 L526.5 545.8" stroke-width="7.75"/><path d="M526.5 545.8 L527.2 547.3 L527.6 548.6 L527.9 551.9 L528.5 572.2 L528.7 594.9 L528.9 604.2 L529.3 613.1 L530.7 640.6 L531.4 649.8 L532.1 655.6 L532.8 660.2 L533.5 664.0 L534.5 668.8 L535.6 672.6 L537.3 678.1 L538.4 681.0 L539.5 683.2" stroke-width="8.00"/><path d="M539.5 683.2 L540.5 684.6 L541.5 685.7" stroke-width="7.75"/><path d="M541.5 685.7 L542.9 686.7" stroke-width="7.50"/><path d="M542.9 686.7 L544.7 687.5" stroke-width="7.25"/><path d="M544.7 687.5 L546.0 687.8" stroke-width="7.00"/><path d="M546.0 687.8 L548.5 688.0" stroke-width="6.75"/><path d="M548.5 688.0 L556.0 688.1" stroke-width="6.50"/><path d="M556.0 688.1 L557.3 687.9" stroke-width="6.75"/><path d="M557.3 687.9 L558.3 687.5" stroke-width="7.00"/><path d="M558.3 687.5 L559.5 687.0" stroke-width="7.25"/><path d="M559.5 687.0 L560.4 686.2" stroke-width="7.50"/><path d="M560.4 686.2 L561.5 684.8 L562.5 683.2" stroke-width="7.75"/><path d="M562.5 683.2 L563.6 680.8 L566.4 673.4 L570.0 665.5 L573.0 658.5 L574.8 655.1" stroke-width="8.00"/><path d="M574.8 655.1 L575.8 653.4 L576.6 652.5" stroke-width="7.75"/><path d="M576.6 652.5 L577.6 651.7" stroke-width="7.50"/><path d="M577.6 651.7 L578.2 651.5" stroke-width="7.25"/><path d="M578.2 651.5 L579.0 651.6 L580.0 652.0" stroke-width="7.00"/><path d="M580.0 652.0 L580.7 652.4" stroke-width="7.25"/><path d="M580.7 652.4 L582.8 654.2" stroke-width="7.50"/><path d="M582.8 654.2 L584.6 656.1" stroke-width="7.75"/><path d="M584.6 656.1 L585.3 656.8 L586.3 657.5" stroke-width="7.50"/><path d="M586.3 657.5 L590.5 659.4 L591.7 660.0" stroke-width="7.25"/><path d="M591.7 660.0 L593.7 661.5 L598.6 665.9 L604.2 670.5 L606.6 672.3 L610.5 674.8" stroke-width="7.50"/><path d="M610.5 674.8 L614.3 676.9 L619.2 679.0" stroke-width="7.25"/><path d="M619.2 679.0 L623.8 680.5 L637.8 684.1 L649.0 687.6 L650.7 688.0" stroke-width="7.00"/><path d="M650.7 688.0 L652.5 688.2" stroke-width="6.75"/><path d="M652.5 688.2 L975.2 688.2 L983.6 688.0" stroke-width="6.50"/><path d="M983.6 688.0 L984.3 688.0" stroke-width="6.75"/><path d="M984.3 688.0 L985.3 687.6" stroke-width="7.00"/><path d="M985.3 687.6 L986.7 686.7" stroke-width="7.25"/><path d="M986.7 686.7 L987.8 686.0" stroke-width="7.50"/><path d="M987.8 686.0 L989.2 685.2" stroke-width="7.25"/><path d="M989.2 685.2 L990.3 685.0 L991.3 685.3" stroke-width="7.00"/><path d="M991.3 685.3 L992.0 685.7" stroke-width="7.25"/><path d="M992.0 685.7 L994.4 687.6" stroke-width="7.50"/><path d="M994.4 687.6 L995.5 688.1" stroke-width="7.25"/><path d="M995.5 688.1 L996.0 688.2" stroke-width="7.00"/><path d="M996.0 688.2 L996.5 688.2" stroke-width="6.75"/><path d="M996.5 688.2 L1000.0 688.2" stroke-width="6.50"/><path d="M1000.0 688.2 L1001.8 688.5 L1002.5 688.5" stroke-width="6.75"/><path d="M1002.5 688.5 L1003.5 688.2" stroke-width="7.00"/><path d="M1003.5 688.2 L1004.9 687.4" stroke-width="7.25"/><path d="M1004.9 687.4 L1006.3 686.3 L1008.4 684.3" stroke-width="7.50"/><path d="M1008.4 684.3 L1009.5 683.2 L1010.2 682.3 L1011.9 679.6" stroke-width="7.75"/><path d="M1011.9 679.6 L1013.7 676.2 L1015.4 671.9 L1017.2 666.7 L1018.6 661.7 L1022.1 648.2 L1023.1 643.5 L1024.2 637.0 L1025.2 628.2 L1026.3 617.2 L1027.7 600.1 L1029.1 577.4 L1029.8 561.9 L1030.8 530.0 L1031.5 510.6 L1032.2 494.2 L1032.9 480.8 L1034.3 461.6 L1035.7 447.7 L1036.1 445.2 L1036.3 444.7 L1036.8 445.1 L1037.5 446.8 L1040.3 456.4 L1041.3 461.1 L1042.0 466.0 L1043.4 480.6 L1045.2 494.9 L1045.5 496.9 L1045.9 498.1 L1046.2 498.5 L1046.6 498.4" stroke-width="8.00"/><path d="M1046.6 498.4 L1046.9 498.0 L1047.6 496.9" stroke-width="7.75"/><path d="M1047.6 496.9 L1048.5 495.0 L1049.0 492.9 L1049.7 488.6 L1050.8 481.0 L1058.8 415.0 L1060.6 398.0 L1061.6 391.2 L1062.0 389.5 L1062.3 388.6 L1062.5 388.5 L1062.7 388.7 L1063.0 389.8 L1063.4 391.5 L1064.4 397.6 L1065.5 405.0 L1066.5 414.5 L1067.9 433.6 L1068.6 438.7 L1069.0 440.5 L1069.3 441.0 L1069.7 440.6 L1070.4 438.9" stroke-width="8.00"/><path d="M1070.4 438.9 L1070.7 438.0" stroke-width="7.75"/><path d="M1070.7 438.0 L1071.8 435.9" stroke-width="8.00"/><path d="M1071.8 435.9 L1072.1 435.2" stroke-width="7.75"/><path d="M1072.1 435.2 L1072.5 434.7 L1073.0 434.4 L1073.2 435.2 L1073.5 439.5 L1074.6 462.2 L1076.0 500.0 L1077.7 531.0 L1079.1 560.7 L1080.5 582.9 L1082.0 600.0 L1083.0 608.8 L1084.4 618.8 L1086.1 629.0 L1087.9 637.5 L1089.3 642.7 L1091.4 649.1 L1093.1 653.4 L1095.2 657.4" stroke-width="8.00"/><path d="M1095.2 657.4 L1097.0 660.2 L1098.7 662.6 L1103.6 668.1" stroke-width="7.75"/><path d="M1103.6 668.1 L1105.0 669.2" stroke-width="7.50"/><path d="M1105.0 669.2 L1105.7 669.5" stroke-width="7.25"/><path d="M1105.7 669.5 L1106.4 669.6" stroke-width="7.00"/><path d="M1106.4 669.6 L1107.8 669.4" stroke-width="6.75"/><path d="M1107.8 669.4 L1109.6 668.9" stroke-width="7.00"/><path d="M1109.6 668.9 L1110.6 668.7" stroke-width="6.75"/><path d="M1110.6 668.7 L1111.0 668.7" stroke-width="7.00"/><path d="M1111.0 668.7 L1111.0 668.7" stroke-width="7.25"/><path d="M1111.0 668.7 L1111.3 668.8 L1111.7 669.1" stroke-width="7.50"/><path d="M1111.7 669.1 L1112.7 670.9" stroke-width="7.75"/><path d="M1112.7 670.9 L1115.2 677.2 L1118.3 683.6" stroke-width="8.00"/><path d="M1118.3 683.6 L1119.0 684.7 L1120.4 686.2" stroke-width="7.75"/><path d="M1120.4 686.2 L1121.5 687.2 L1122.2 687.7" stroke-width="7.50"/><path d="M1122.2 687.7 L1123.0 688.0" stroke-width="7.25"/><path d="M1123.0 688.0 L1125.0 688.5" stroke-width="7.00"/><path d="M1125.0 688.5 L1127.4 688.8" stroke-width="6.75"/><path d="M1127.4 688.8 L1129.9 688.7" stroke-width="6.50"/><path d="M1129.9 688.7 L1133.5 688.3" stroke-width="6.75"/><path d="M1133.5 688.3 L1134.8 687.9" stroke-width="7.00"/><path d="M1134.8 687.9 L1136.2 687.2 L1140.0 685.0 L1146.7 681.8 L1151.9 679.5" stroke-width="7.25"/><path d="M1151.9 679.5 L1158.2 676.8" stroke-width="7.50"/><path d="M1158.2 676.8 L1161.4 675.7 L1164.5 674.7" stroke-width="7.75"/><path d="M1164.5 674.7 L1169.8 673.4 L1185.2 669.9 L1189.7 668.7 L1202.0 665.0 L1220.2 659.1 L1224.7 657.9 L1231.7 656.6 L1237.3 655.8 L1247.1 655.2 L1250.6 655.1 L1254.5 655.2 L1263.2 655.9 L1265.7 656.2 L1268.1 656.7 L1288.1 661.6 L1300.7 665.4 L1310.1 668.1 L1315.7 670.1 L1322.0 672.6 L1326.9 674.8 L1336.4 679.7 L1341.6 681.8 L1345.8 683.4" stroke-width="8.00"/><path d="M1345.8 683.4 L1349.0 684.3 L1352.1 685.0" stroke-width="7.75"/><path d="M1352.1 685.0 L1358.4 686.1" stroke-width="7.50"/><path d="M1358.4 686.1 L1364.4 686.8" stroke-width="7.25"/><path d="M1364.4 686.8 L1370.7 687.4" stroke-width="7.00"/><path d="M1370.7 687.4 L1377.0 687.8" stroke-width="6.75"/><path d="M1377.0 687.8 L1391.0 688.2 L1461.7 688.2" stroke-width="6.50"/></g>
<g fill="none" stroke="#4A7EBB" stroke-linejoin="round" stroke-linecap="round"><path d="M133.4 686.4 L135.2 686.4" stroke-width="6.50"/><path d="M135.2 686.4 L135.9 686.5" stroke-width="6.75"/><path d="M135.9 686.5 L136.6 686.8" stroke-width="7.00"/><path d="M136.6 686.8 L137.0 686.9" stroke-width="7.25"/><path d="M137.0 686.9 L137.6 687.4" stroke-width="7.50"/><path d="M137.6 687.4 L138.3 688.1 L139.0 688.4" stroke-width="7.25"/><path d="M139.0 688.4 L139.4 688.4" stroke-width="7.00"/><path d="M139.4 688.4 L148.8 688.3 L153.0 688.5" stroke-width="6.75"/><path d="M153.0 688.5 L168.1 688.6 L174.0 688.4" stroke-width="6.50"/><path d="M174.0 688.4 L180.7 688.1" stroke-width="6.75"/><path d="M180.7 688.1 L184.5 687.7" stroke-width="7.00"/><path d="M184.5 687.7 L187.7 687.4" stroke-width="7.25"/><path d="M187.7 687.4 L191.2 687.2" stroke-width="7.50"/><path d="M191.2 687.2 L196.4 686.9" stroke-width="7.75"/><path d="M196.4 686.9 L204.1 686.8 L210.1 686.9" stroke-width="8.00"/><path d="M210.1 686.9 L215.3 687.2" stroke-width="7.75"/><path d="M215.3 687.2 L220.9 687.5" stroke-width="7.50"/><path d="M220.9 687.5 L226.2 687.8" stroke-width="7.25"/><path d="M226.2 687.8 L229.3 687.9 L230.0 687.9 L231.1 687.6" stroke-width="7.00"/><path d="M231.1 687.6 L232.1 687.3" stroke-width="7.25"/><path d="M232.1 687.3 L233.2 687.0" stroke-width="7.50"/><path d="M233.2 687.0 L233.9 687.0 L234.6 687.1" stroke-width="7.75"/><path d="M234.6 687.1 L235.6 687.3" stroke-width="7.50"/><path d="M235.6 687.3 L237.0 687.9" stroke-width="7.25"/><path d="M237.0 687.9 L238.1 688.3 L238.8 688.3" stroke-width="7.00"/><path d="M238.8 688.3 L239.5 687.9" stroke-width="7.25"/><path d="M239.5 687.9 L240.9 686.6" stroke-width="7.50"/><path d="M240.9 686.6 L241.2 686.3" stroke-width="7.75"/><path d="M241.2 686.3 L241.6 686.1" stroke-width="8.00"/><path d="M241.6 686.1 L241.9 685.9" stroke-width="8.25"/><path d="M241.9 685.9 L242.6 685.6" stroke-width="8.50"/><path d="M242.6 685.6 L243.3 685.3" stroke-width="8.75"/><path d="M243.3 685.3 L244.0 685.1" stroke-width="9.00"/><path d="M244.0 685.1 L244.7 684.8" stroke-width="9.25"/><path d="M244.7 684.8 L245.8 684.6" stroke-width="9.50"/><path d="M245.8 684.6 L246.5 684.2" stroke-width="9.75"/><path d="M246.5 684.2 L246.8 683.9" stroke-width="9.50"/><path d="M246.8 683.9 L247.2 683.7" stroke-width="9.00"/><path d="M247.2 683.7 L247.5 683.4" stroke-width="8.75"/><path d="M247.5 683.4 L247.9 683.1" stroke-width="8.50"/><path d="M247.9 683.1 L248.2 682.8" stroke-width="8.25"/><path d="M248.2 682.8 L248.6 682.5" stroke-width="8.00"/><path d="M248.6 682.5 L248.9 682.1" stroke-width="7.75"/><path d="M248.9 682.1 L250.5 681.0" stroke-width="7.50"/><path d="M250.5 681.0 L251.0 680.5" stroke-width="7.75"/><path d="M251.0 680.5 L251.4 679.9 L251.8 679.0 L252.1 676.2 L253.5 657.1 L253.7 655.5 L254.2 653.9 L254.5 653.2 L254.9 653.0" stroke-width="8.00"/><path d="M254.9 653.0 L255.2 653.0" stroke-width="7.75"/><path d="M255.2 653.0 L255.6 653.2" stroke-width="7.50"/><path d="M255.6 653.2 L256.3 653.5" stroke-width="7.25"/><path d="M256.3 653.5 L256.8 653.9" stroke-width="7.50"/><path d="M256.8 653.9 L257.3 654.6 L258.4 656.4 L259.8 657.9" stroke-width="7.75"/><path d="M259.8 657.9 L261.2 658.9" stroke-width="7.50"/><path d="M261.2 658.9 L261.9 659.2" stroke-width="7.25"/><path d="M261.9 659.2 L263.3 659.5" stroke-width="7.00"/><path d="M263.3 659.5 L263.6 659.6" stroke-width="7.25"/><path d="M263.6 659.6 L264.0 659.8" stroke-width="7.75"/><path d="M264.0 659.8 L264.3 660.1" stroke-width="8.50"/><path d="M264.3 660.1 L264.7 660.7" stroke-width="9.25"/><path d="M264.7 660.7 L265.0 661.3" stroke-width="10.00"/><path d="M265.0 661.3 L266.1 663.7 L267.8 668.7 L268.9 671.1 L269.9 672.9 L272.4 675.9 L274.3 678.9 L276.8 683.9 L277.6 686.1" stroke-width="10.50"/><path d="M277.6 686.1 L278.0 687.1" stroke-width="10.25"/><path d="M278.0 687.1 L278.3 687.9" stroke-width="9.50"/><path d="M278.3 687.9 L278.7 688.4" stroke-width="8.75"/><path d="M278.7 688.4 L279.0 688.6" stroke-width="8.00"/><path d="M279.0 688.6 L279.0 688.6" stroke-width="7.75"/><path d="M279.0 688.6 L279.4 688.3 L279.7 687.5 L280.5 685.2 L281.8 677.2 L282.5 674.5 L283.2 672.5 L283.9 671.3" stroke-width="8.00"/><path d="M283.9 671.3 L285.0 670.1" stroke-width="7.75"/><path d="M285.0 670.1 L285.3 669.9" stroke-width="7.50"/><path d="M285.3 669.9 L285.7 669.8" stroke-width="7.25"/><path d="M285.7 669.8 L286.7 669.5" stroke-width="7.00"/><path d="M286.7 669.5 L287.1 669.5" stroke-width="6.75"/><path d="M287.1 669.5 L287.8 669.6 L288.5 669.9" stroke-width="7.00"/><path d="M288.5 669.9 L289.2 670.3" stroke-width="7.25"/><path d="M289.2 670.3 L289.5 670.6" stroke-width="7.50"/><path d="M289.5 670.6 L290.2 671.4 L291.3 673.1" stroke-width="7.75"/><path d="M291.3 673.1 L292.3 675.3 L293.4 678.2 L295.1 684.8 L296.5 688.4" stroke-width="8.00"/><path d="M296.5 688.4 L297.0 688.8 L297.2 688.7 L297.6 688.4 L301.1 682.3 L302.5 680.4 L303.5 679.2" stroke-width="7.75"/><path d="M303.5 679.2 L304.2 678.6 L304.9 678.2" stroke-width="7.50"/><path d="M304.9 678.2 L306.7 677.3" stroke-width="7.25"/><path d="M306.7 677.3 L308.1 676.9" stroke-width="7.00"/><path d="M308.1 676.9 L308.8 676.9 L309.8 677.1" stroke-width="6.75"/><path d="M309.8 677.1 L311.2 677.5" stroke-width="7.00"/><path d="M311.2 677.5 L312.3 678.0" stroke-width="7.25"/><path d="M312.3 678.0 L313.3 678.9 L314.4 679.9" stroke-width="7.50"/><path d="M314.4 679.9 L315.4 681.0 L317.5 683.7 L320.3 686.9" stroke-width="7.75"/><path d="M320.3 686.9 L321.7 687.9" stroke-width="7.50"/><path d="M321.7 687.9 L322.4 688.4 L323.1 688.6" stroke-width="7.25"/><path d="M323.1 688.6 L323.3 688.6" stroke-width="7.00"/><path d="M323.3 688.6 L323.8 688.5 L324.5 688.1" stroke-width="7.25"/><path d="M324.5 688.1 L325.9 686.7" stroke-width="7.50"/><path d="M325.9 686.7 L326.6 686.3" stroke-width="7.75"/><path d="M326.6 686.3 L327.0 686.1" stroke-width="8.00"/><path d="M327.0 686.1 L327.5 685.9" stroke-width="8.25"/><path d="M327.5 685.9 L328.4 685.7" stroke-width="8.50"/><path d="M328.4 685.7 L329.4 685.4" stroke-width="8.75"/><path d="M329.4 685.4 L330.5 685.2" stroke-width="9.00"/><path d="M330.5 685.2 L331.5 685.0" stroke-width="9.25"/><path d="M331.5 685.0 L332.9 684.7" stroke-width="9.50"/><path d="M332.9 684.7 L334.7 684.4" stroke-width="9.75"/><path d="M334.7 684.4 L336.4 684.2" stroke-width="10.00"/><path d="M336.4 684.2 L338.5 684.1 L342.7 684.3" stroke-width="10.25"/><path d="M342.7 684.3 L345.5 684.5" stroke-width="10.00"/><path d="M345.5 684.5 L347.3 684.8" stroke-width="9.75"/><path d="M347.3 684.8 L348.7 685.1" stroke-width="9.50"/><path d="M348.7 685.1 L349.7 685.3 L350.7 685.4 L351.5 685.3 L352.5 684.9" stroke-width="9.25"/><path d="M352.5 684.9 L353.6 684.5" stroke-width="9.50"/><path d="M353.6 684.5 L354.3 684.2" stroke-width="9.75"/><path d="M354.3 684.2 L355.0 683.9" stroke-width="10.00"/><path d="M355.0 683.9 L355.7 683.6" stroke-width="10.25"/><path d="M355.7 683.6 L356.3 683.4" stroke-width="10.50"/><path d="M356.3 683.4 L357.1 683.1" stroke-width="10.75"/><path d="M357.1 683.1 L362.6 679.7 L365.5 677.5 L366.5 677.0 L367.6 676.8 L368.6 677.0 L369.3 677.2 L371.4 678.5 L372.1 679.3 L373.5 681.5 L373.9 681.9 L374.4 682.2 L375.3 682.1 L377.0 681.3 L378.1 681.3 L379.5 681.7 L381.9 683.1" stroke-width="11.00"/><path d="M381.9 683.1 L382.6 683.4" stroke-width="10.75"/><path d="M382.6 683.4 L383.7 683.8" stroke-width="10.50"/><path d="M383.7 683.8 L384.4 684.0" stroke-width="10.25"/><path d="M384.4 684.0 L385.4 684.4" stroke-width="10.00"/><path d="M385.4 684.4 L386.1 684.6" stroke-width="9.75"/><path d="M386.1 684.6 L386.8 684.9" stroke-width="9.50"/><path d="M386.8 684.9 L387.9 685.2" stroke-width="9.25"/><path d="M387.9 685.2 L388.6 685.5" stroke-width="9.00"/><path d="M388.6 685.5 L389.6 685.8" stroke-width="8.75"/><path d="M389.6 685.8 L390.3 686.1" stroke-width="8.50"/><path d="M390.3 686.1 L391.0 686.4" stroke-width="8.25"/><path d="M391.0 686.4 L391.7 686.7" stroke-width="8.00"/><path d="M391.7 686.7 L392.4 687.0" stroke-width="7.75"/><path d="M392.4 687.0 L393.1 687.2" stroke-width="7.50"/><path d="M393.1 687.2 L394.2 687.6" stroke-width="7.25"/><path d="M394.2 687.6 L397.0 688.4" stroke-width="7.00"/><path d="M397.0 688.4 L398.7 688.6 L399.8 688.5" stroke-width="6.75"/><path d="M399.8 688.5 L400.8 688.1" stroke-width="7.00"/><path d="M400.8 688.1 L402.6 687.1" stroke-width="7.25"/><path d="M402.6 687.1 L403.3 686.8" stroke-width="7.50"/><path d="M403.3 686.8 L404.0 686.4" stroke-width="7.75"/><path d="M404.0 686.4 L404.7 686.1" stroke-width="8.00"/><path d="M404.7 686.1 L405.0 685.9" stroke-width="8.25"/><path d="M405.0 685.9 L405.7 685.5" stroke-width="8.50"/><path d="M405.7 685.5 L406.1 685.3" stroke-width="8.75"/><path d="M406.1 685.3 L406.8 684.8" stroke-width="9.00"/><path d="M406.8 684.8 L407.1 684.5" stroke-width="9.25"/><path d="M407.1 684.5 L407.5 684.2" stroke-width="9.50"/><path d="M407.5 684.2 L407.8 684.0" stroke-width="9.75"/><path d="M407.8 684.0 L408.2 683.8" stroke-width="10.00"/><path d="M408.2 683.8 L408.5 683.5" stroke-width="10.25"/><path d="M408.5 683.5 L409.2 683.2" stroke-width="10.50"/><path d="M409.2 683.2 L409.6 683.0" stroke-width="10.75"/><path d="M409.6 683.0 L412.0 682.1 L413.1 682.0 L414.1 681.9 L415.9 682.2 L418.3 683.2" stroke-width="11.00"/><path d="M418.3 683.2 L419.0 683.4" stroke-width="10.75"/><path d="M419.0 683.4 L419.7 683.7" stroke-width="10.50"/><path d="M419.7 683.7 L420.1 683.9" stroke-width="10.25"/><path d="M420.1 683.9 L420.8 684.3" stroke-width="10.00"/><path d="M420.8 684.3 L421.1 684.6" stroke-width="9.75"/><path d="M421.1 684.6 L421.5 684.9" stroke-width="9.50"/><path d="M421.5 684.9 L421.8 685.1" stroke-width="9.25"/><path d="M421.8 685.1 L422.2 685.4" stroke-width="9.00"/><path d="M422.2 685.4 L422.5 685.6" stroke-width="8.75"/><path d="M422.5 685.6 L423.2 686.1" stroke-width="8.50"/><path d="M423.2 686.1 L423.9 686.4" stroke-width="8.25"/><path d="M423.9 686.4 L425.0 686.8" stroke-width="8.00"/><path d="M425.0 686.8 L427.1 687.2" stroke-width="7.75"/><path d="M427.1 687.2 L429.5 687.5" stroke-width="7.50"/><path d="M429.5 687.5 L431.6 687.7" stroke-width="7.25"/><path d="M431.6 687.7 L433.4 688.0" stroke-width="7.00"/><path d="M433.4 688.0 L435.1 688.3 L436.9 688.4" stroke-width="6.75"/><path d="M436.9 688.4 L442.1 688.6 L451.2 688.5 L457.2 688.7 L460.0 688.6" stroke-width="6.50"/><path d="M460.0 688.6 L461.4 688.5" stroke-width="6.75"/><path d="M461.4 688.5 L461.7 688.4" stroke-width="7.00"/><path d="M461.7 688.4 L462.8 687.8" stroke-width="7.25"/><path d="M462.8 687.8 L463.5 687.1 L464.2 686.7" stroke-width="7.50"/><path d="M464.2 686.7 L464.5 686.6" stroke-width="7.75"/><path d="M464.5 686.6 L465.9 686.4" stroke-width="8.00"/><path d="M465.9 686.4 L468.0 686.3" stroke-width="8.25"/><path d="M468.0 686.3 L469.8 686.2" stroke-width="8.50"/><path d="M469.8 686.2 L471.2 686.5" stroke-width="8.25"/><path d="M471.2 686.5 L471.9 686.7" stroke-width="8.00"/><path d="M471.9 686.7 L472.9 687.0" stroke-width="7.75"/><path d="M472.9 687.0 L473.6 687.2" stroke-width="7.50"/><path d="M473.6 687.2 L475.4 688.1" stroke-width="7.25"/><path d="M475.4 688.1 L476.5 688.4 L477.1 688.3 L477.8 688.1" stroke-width="7.00"/><path d="M477.8 688.1 L479.6 687.1" stroke-width="7.25"/><path d="M479.6 687.1 L480.2 686.8" stroke-width="7.50"/><path d="M480.2 686.8 L481.3 685.9" stroke-width="7.75"/><path d="M481.3 685.9 L482.4 684.9" stroke-width="8.00"/><path d="M482.4 684.9 L483.0 684.2" stroke-width="7.75"/><path d="M483.0 684.2 L485.2 682.8 L485.9 682.2" stroke-width="7.50"/><path d="M485.9 682.2 L486.5 681.5" stroke-width="7.75"/><path d="M486.5 681.5 L486.9 680.7 L487.3 679.7 L488.3 675.2 L489.0 669.0 L489.7 661.0 L493.6 603.8 L494.0 596.7 L494.7 579.5 L495.0 584.6 L495.4 596.7 L497.4 640.8 L498.1 655.2 L499.2 672.0 L499.7 677.5 L500.6 682.6 L501.3 685.1 L502.3 686.9" stroke-width="8.00"/><path d="M502.3 686.9 L503.0 687.8" stroke-width="7.75"/><path d="M503.0 687.8 L503.7 688.3 L504.1 688.3 L504.4 688.1 L505.1 687.4" stroke-width="7.50"/><path d="M505.1 687.4 L506.2 685.9" stroke-width="7.75"/><path d="M506.2 685.9 L507.2 683.6" stroke-width="8.00"/><path d="M507.2 683.6 L507.5 683.0" stroke-width="8.25"/><path d="M507.5 683.0 L507.9 681.7" stroke-width="8.50"/><path d="M507.9 681.7 L508.3 680.6" stroke-width="8.75"/><path d="M508.3 680.6 L508.6 679.3" stroke-width="9.00"/><path d="M508.6 679.3 L509.0 678.0" stroke-width="9.25"/><path d="M509.0 678.0 L510.2 672.2 L511.1 665.9 L512.5 653.9 L515.3 627.7 L515.9 620.0 L516.3 608.0" stroke-width="9.50"/><path d="M516.3 608.0 L516.7 596.5" stroke-width="9.25"/><path d="M516.7 596.5 L517.0 585.8" stroke-width="9.00"/><path d="M517.0 585.8 L517.4 575.0" stroke-width="8.75"/><path d="M517.4 575.0 L517.7 564.4" stroke-width="8.50"/><path d="M517.7 564.4 L518.0 557.4" stroke-width="8.25"/><path d="M518.0 557.4 L518.7 540.0 L519.1 531.5 L523.0 468.7 L523.3 466.0 L523.7 464.4 L524.4 462.3 L525.1 461.2" stroke-width="8.00"/><path d="M525.1 461.2 L525.5 461.0 L525.8 461.1 L526.1 461.5" stroke-width="7.75"/><path d="M526.1 461.5 L526.8 463.2 L527.6 466.7 L527.9 472.0 L528.5 504.0 L528.7 540.0 L528.9 554.8 L529.6 580.2 L531.0 620.0" stroke-width="8.00"/><path d="M531.0 620.0 L531.4 627.1" stroke-width="8.50"/><path d="M531.4 627.1 L531.7 632.0" stroke-width="8.75"/><path d="M531.7 632.0 L532.1 636.3" stroke-width="9.00"/><path d="M532.1 636.3 L532.4 640.1" stroke-width="9.50"/><path d="M532.4 640.1 L532.8 643.6" stroke-width="9.75"/><path d="M532.8 643.6 L533.1 646.7" stroke-width="10.00"/><path d="M533.1 646.7 L534.2 654.8 L535.2 661.3 L536.5 667.8 L538.4 676.5 L539.4 679.9 L540.5 682.1 L541.9 684.3 L543.3 685.7" stroke-width="10.25"/><path d="M543.3 685.7 L543.6 686.0" stroke-width="10.00"/><path d="M543.6 686.0 L544.0 686.3" stroke-width="9.75"/><path d="M544.0 686.3 L544.3 686.6" stroke-width="9.25"/><path d="M544.3 686.6 L544.7 686.8" stroke-width="9.00"/><path d="M544.7 686.8 L545.0 687.0" stroke-width="8.75"/><path d="M545.0 687.0 L545.4 687.1" stroke-width="8.25"/><path d="M545.4 687.1 L545.7 687.2" stroke-width="8.00"/><path d="M545.7 687.2 L546.0 687.3" stroke-width="7.75"/><path d="M546.0 687.3 L546.1 687.3" stroke-width="7.50"/><path d="M546.1 687.3 L546.4 687.4" stroke-width="7.25"/><path d="M546.4 687.4 L546.8 687.4" stroke-width="7.00"/><path d="M546.8 687.4 L549.6 687.8" stroke-width="6.75"/><path d="M549.6 687.8 L556.0 687.8" stroke-width="6.50"/><path d="M556.0 687.8 L557.3 687.6" stroke-width="6.75"/><path d="M557.3 687.6 L558.7 687.2" stroke-width="7.00"/><path d="M558.7 687.2 L559.5 686.8" stroke-width="7.25"/><path d="M559.5 686.8 L560.4 686.0" stroke-width="7.50"/><path d="M560.4 686.0 L561.5 684.6 L562.5 683.0" stroke-width="7.75"/><path d="M562.5 683.0 L563.6 680.6 L565.7 674.7 L566.7 672.2 L572.7 658.9 L574.8 654.8" stroke-width="8.00"/><path d="M574.8 654.8 L575.8 653.1 L576.6 652.3" stroke-width="7.75"/><path d="M576.6 652.3 L577.2 651.8" stroke-width="7.50"/><path d="M577.2 651.8 L577.9 651.4 L578.3 651.4 L578.6 651.5 L579.3 652.0" stroke-width="7.25"/><path d="M579.3 652.0 L580.0 652.5" stroke-width="7.50"/><path d="M580.0 652.5 L581.4 654.3 L585.6 660.7" stroke-width="7.75"/><path d="M585.6 660.7 L586.0 661.3" stroke-width="8.00"/><path d="M586.0 661.3 L586.3 661.8" stroke-width="8.25"/><path d="M586.3 661.8 L587.0 662.9" stroke-width="8.50"/><path d="M587.0 662.9 L587.4 663.5" stroke-width="8.75"/><path d="M587.4 663.5 L587.7 664.0" stroke-width="9.00"/><path d="M587.7 664.0 L593.3 672.5 L595.1 674.6 L597.5 677.2 L599.6 679.1 L602.1 680.9 L604.9 682.4 L607.3 683.5" stroke-width="9.25"/><path d="M607.3 683.5 L608.0 683.7" stroke-width="9.00"/><path d="M608.0 683.7 L608.4 683.8" stroke-width="8.75"/><path d="M608.4 683.8 L608.7 683.9" stroke-width="8.50"/><path d="M608.7 683.9 L609.1 684.0" stroke-width="8.25"/><path d="M609.1 684.0 L609.8 684.2" stroke-width="8.00"/><path d="M609.8 684.2 L610.1 684.3" stroke-width="7.75"/><path d="M610.1 684.3 L610.5 684.4" stroke-width="7.50"/><path d="M610.5 684.4 L611.2 684.6" stroke-width="7.25"/><path d="M611.2 684.6 L614.0 685.2" stroke-width="7.00"/><path d="M614.0 685.2 L621.0 686.3 L629.7 687.0" stroke-width="6.75"/><path d="M629.7 687.0 L637.4 687.4" stroke-width="6.50"/><path d="M637.4 687.4 L645.8 688.0" stroke-width="6.75"/><path d="M645.8 688.0 L651.1 688.3 L653.9 688.2" stroke-width="6.50"/><path d="M653.9 688.2 L656.7 688.0" stroke-width="6.75"/><path d="M656.7 688.0 L659.1 687.6" stroke-width="7.00"/><path d="M659.1 687.6 L660.9 687.3" stroke-width="7.25"/><path d="M660.9 687.3 L662.6 687.0" stroke-width="7.50"/><path d="M662.6 687.0 L664.4 686.8" stroke-width="7.75"/><path d="M664.4 686.8 L667.2 686.6" stroke-width="8.00"/><path d="M667.2 686.6 L670.7 686.3" stroke-width="8.25"/><path d="M670.7 686.3 L674.5 686.0" stroke-width="8.50"/><path d="M674.5 686.0 L678.0 685.7" stroke-width="8.75"/><path d="M678.0 685.7 L681.2 685.4" stroke-width="9.00"/><path d="M681.2 685.4 L684.3 685.1" stroke-width="9.25"/><path d="M684.3 685.1 L689.2 684.9 L691.0 685.1" stroke-width="9.50"/><path d="M691.0 685.1 L692.4 685.3" stroke-width="9.25"/><path d="M692.4 685.3 L693.8 685.6" stroke-width="9.00"/><path d="M693.8 685.6 L695.5 685.9" stroke-width="8.75"/><path d="M695.5 685.9 L697.3 686.2" stroke-width="8.50"/><path d="M697.3 686.2 L699.0 686.5" stroke-width="8.25"/><path d="M699.0 686.5 L701.1 686.9" stroke-width="8.00"/><path d="M701.1 686.9 L705.0 687.2" stroke-width="7.75"/><path d="M705.0 687.2 L710.2 687.5" stroke-width="7.50"/><path d="M710.2 687.5 L715.5 687.7 L719.0 687.6 L720.0 687.4" stroke-width="7.25"/><path d="M720.0 687.4 L721.1 687.3" stroke-width="7.00"/><path d="M721.1 687.3 L722.1 687.1" stroke-width="6.75"/><path d="M722.1 687.1 L728.4 687.0 L734.7 687.3" stroke-width="6.50"/><path d="M734.7 687.3 L738.6 687.5" stroke-width="6.75"/><path d="M738.6 687.5 L740.3 687.6" stroke-width="6.50"/><path d="M740.3 687.6 L749.1 688.3" stroke-width="6.75"/><path d="M749.1 688.3 L752.6 688.4 L769.7 688.5 L799.1 688.4 L818.4 688.1 L835.2 687.4" stroke-width="6.50"/><path d="M835.2 687.4 L838.3 687.2" stroke-width="6.75"/><path d="M838.3 687.2 L845.3 687.0 L863.2 687.3 L875.1 687.7 L892.9 688.6 L903.4 688.8 L923.0 688.8 L932.5 688.6 L936.0 688.4" stroke-width="6.50"/><path d="M936.0 688.4 L939.5 688.2" stroke-width="6.75"/><path d="M939.5 688.2 L944.6 688.0 L955.9 688.2 L960.8 688.2" stroke-width="6.50"/><path d="M960.8 688.2 L962.9 688.1 L964.0 688.0" stroke-width="6.75"/><path d="M964.0 688.0 L965.7 687.7" stroke-width="7.00"/><path d="M965.7 687.7 L967.8 687.5" stroke-width="7.25"/><path d="M967.8 687.5 L969.6 687.5" stroke-width="7.50"/><path d="M969.6 687.5 L973.1 687.7" stroke-width="7.25"/><path d="M973.1 687.7 L975.2 687.9 L977.3 688.4" stroke-width="7.00"/><path d="M977.3 688.4 L979.7 688.7" stroke-width="6.75"/><path d="M979.7 688.7 L980.4 688.5" stroke-width="7.00"/><path d="M980.4 688.5 L981.1 688.1" stroke-width="7.25"/><path d="M981.1 688.1 L982.9 686.5" stroke-width="7.50"/><path d="M982.9 686.5 L983.2 686.3" stroke-width="7.75"/><path d="M983.2 686.3 L983.6 686.1" stroke-width="8.00"/><path d="M983.6 686.1 L984.3 685.6" stroke-width="8.25"/><path d="M984.3 685.6 L984.6 685.4" stroke-width="8.50"/><path d="M984.6 685.4 L985.0 685.1" stroke-width="8.75"/><path d="M985.0 685.1 L985.3 684.9" stroke-width="9.00"/><path d="M985.3 684.9 L985.7 684.6" stroke-width="9.25"/><path d="M985.7 684.6 L986.0 684.4" stroke-width="9.50"/><path d="M986.0 684.4 L986.7 684.0" stroke-width="9.75"/><path d="M986.7 684.0 L987.1 683.9" stroke-width="10.00"/><path d="M987.1 683.9 L988.1 683.6" stroke-width="10.25"/><path d="M988.1 683.6 L988.8 683.4" stroke-width="10.50"/><path d="M988.8 683.4 L990.2 683.3" stroke-width="10.75"/><path d="M990.2 683.3 L990.6 683.3" stroke-width="11.00"/><path d="M990.6 683.3 L992.0 683.5" stroke-width="10.75"/><path d="M992.0 683.5 L992.3 683.6" stroke-width="10.50"/><path d="M992.3 683.6 L993.0 683.9" stroke-width="10.25"/><path d="M993.0 683.9 L993.5 684.1" stroke-width="10.00"/><path d="M993.5 684.1 L994.1 684.5" stroke-width="9.75"/><path d="M994.1 684.5 L994.4 684.8" stroke-width="9.50"/><path d="M994.4 684.8 L994.8 685.2" stroke-width="9.25"/><path d="M994.8 685.2 L995.1 685.7" stroke-width="8.75"/><path d="M995.1 685.7 L995.5 686.1" stroke-width="8.50"/><path d="M995.5 686.1 L995.8 686.5" stroke-width="8.00"/><path d="M995.8 686.5 L996.9 687.8" stroke-width="7.75"/><path d="M996.9 687.8 L997.2 688.0" stroke-width="7.50"/><path d="M997.2 688.0 L997.9 688.2" stroke-width="7.25"/><path d="M997.9 688.2 L998.6 688.4" stroke-width="7.00"/><path d="M998.6 688.4 L999.7 688.5 L1000.4 688.4" stroke-width="6.75"/><path d="M1000.4 688.4 L1001.4 688.1" stroke-width="7.00"/><path d="M1001.4 688.1 L1003.5 687.0" stroke-width="7.25"/><path d="M1003.5 687.0 L1004.6 686.2 L1005.6 685.2" stroke-width="7.50"/><path d="M1005.6 685.2 L1008.8 681.5 L1011.1 678.0" stroke-width="7.75"/><path d="M1011.1 678.0 L1012.3 675.6 L1013.3 673.1 L1017.5 662.4 L1019.6 655.3 L1021.4 647.7 L1022.8 639.7 L1024.2 628.5 L1025.6 613.3 L1026.6 598.6 L1027.3 585.0 L1028.1 567.0 L1029.2 530.0 L1031.2 426.4 L1031.9 373.0 L1032.6 355.4 L1034.0 336.4 L1034.6 324.3 L1035.7 279.9 L1036.1 271.0 L1036.4 273.5 L1037.6 289.6 L1038.2 296.3 L1043.8 353.3 L1045.5 370.0 L1045.9 372.1 L1046.2 372.7 L1046.6 372.4 L1047.3 371.0 L1048.0 369.0 L1048.7 366.0 L1051.5 348.6 L1052.3 341.7 L1052.9 333.7 L1053.9 313.1 L1056.4 256.5 L1057.1 237.4 L1058.5 185.6 L1059.0 172.0 L1059.9 157.4 L1060.6 149.7 L1061.6 141.9 L1062.0 140.5 L1062.2 140.3 L1062.3 140.5 L1062.7 142.6 L1063.0 146.3 L1064.1 161.0 L1065.4 189.6 L1066.5 223.2 L1067.2 237.0 L1067.6 241.7 L1067.8 243.0 L1068.6 245.2 L1069.0 245.7 L1069.3 246.0" stroke-width="8.00"/><path d="M1069.3 246.0 L1069.7 245.9 L1070.0 245.3 L1070.7 243.3" stroke-width="7.75"/><path d="M1070.7 243.3 L1071.1 242.3 L1071.8 241.1" stroke-width="8.00"/><path d="M1071.8 241.1 L1072.8 239.8" stroke-width="7.75"/><path d="M1072.8 239.8 L1073.2 239.6 L1073.5 239.5 L1073.5 239.6 L1073.9 245.0 L1074.9 273.0 L1077.4 349.2 L1077.8 359.0 L1078.8 372.3 L1079.1 379.9 L1079.5 393.6 L1080.5 450.0 L1081.2 504.8 L1081.7 530.0 L1082.6 554.2 L1084.4 582.1 L1085.4 595.3 L1086.4 604.0 L1087.9 613.5 L1089.3 620.0 L1091.0 625.8 L1092.8 630.3 L1094.2 633.4 L1097.7 640.4 L1100.5 646.4 L1101.9 649.1" stroke-width="8.00"/><path d="M1101.9 649.1 L1102.9 650.7 L1104.0 652.1 L1108.2 656.5 L1111.0 659.9 L1112.0 661.3 L1113.1 662.9" stroke-width="7.75"/><path d="M1113.1 662.9 L1114.1 665.3 L1117.3 673.9 L1118.7 676.6" stroke-width="8.00"/><path d="M1118.7 676.6 L1120.1 678.7 L1122.9 682.4 L1125.0 684.8" stroke-width="7.75"/><path d="M1125.0 684.8 L1126.7 686.0" stroke-width="7.50"/><path d="M1126.7 686.0 L1128.8 687.1" stroke-width="7.25"/><path d="M1128.8 687.1 L1131.3 687.7" stroke-width="7.00"/><path d="M1131.3 687.7 L1133.4 688.0 L1137.2 688.3" stroke-width="6.75"/><path d="M1137.2 688.3 L1143.2 688.4" stroke-width="6.50"/><path d="M1143.2 688.4 L1149.5 688.3" stroke-width="6.75"/><path d="M1149.5 688.3 L1155.8 688.4" stroke-width="7.00"/><path d="M1155.8 688.4 L1162.1 688.5" stroke-width="7.25"/><path d="M1162.1 688.5 L1168.4 688.5" stroke-width="7.50"/><path d="M1168.4 688.5 L1174.7 688.4" stroke-width="7.75"/><path d="M1174.7 688.4 L1177.8 688.2 L1188.0 687.2 L1192.5 686.5 L1197.1 685.5 L1200.2 684.6 L1204.1 683.2 L1213.5 678.9 L1217.4 677.4 L1220.9 676.1 L1229.3 673.7 L1235.6 671.6 L1241.5 669.9 L1246.8 668.8 L1251.3 668.3 L1253.4 668.3 L1255.5 668.5 L1258.3 668.8 L1260.4 669.3 L1303.8 680.4 L1310.8 682.5" stroke-width="8.00"/><path d="M1310.8 682.5 L1317.1 684.7" stroke-width="7.75"/><path d="M1317.1 684.7 L1320.6 685.9 L1323.4 686.7" stroke-width="7.50"/><path d="M1323.4 686.7 L1326.9 687.7 L1329.4 688.2" stroke-width="7.25"/><path d="M1329.4 688.2 L1335.7 688.6" stroke-width="7.00"/><path d="M1335.7 688.6 L1342.0 688.6" stroke-width="6.75"/><path d="M1342.0 688.6 L1461.7 688.4" stroke-width="6.50"/></g>
<path d="M255.9 662.0 L259.5 662.6 L262.6 663.0" fill="none" stroke="#4A7EBB" stroke-width="9" stroke-linecap="round" stroke-linejoin="round"/>
</g>
<text x="104.2" y="53.9" font-size="33" text-anchor="end" textLength="45.5" lengthAdjust="spacingAndGlyphs">1.4</text>
<text x="104.2" y="146.1" font-size="33" text-anchor="end" textLength="45.5" lengthAdjust="spacingAndGlyphs">1.2</text>
<text x="104.2" y="238.2" font-size="33" text-anchor="end" textLength="18.2" lengthAdjust="spacingAndGlyphs">1</text>
<text x="104.2" y="330.4" font-size="33" text-anchor="end" textLength="45.5" lengthAdjust="spacingAndGlyphs">0.8</text>
<text x="104.2" y="422.6" font-size="33" text-anchor="end" textLength="45.5" lengthAdjust="spacingAndGlyphs">0.6</text>
<text x="104.2" y="514.8" font-size="33" text-anchor="end" textLength="45.5" lengthAdjust="spacingAndGlyphs">0.4</text>
<text x="104.2" y="606.9" font-size="33" text-anchor="end" textLength="45.5" lengthAdjust="spacingAndGlyphs">0.2</text>
<text x="104.2" y="699.1" font-size="33" text-anchor="end" textLength="18.2" lengthAdjust="spacingAndGlyphs">0</text>
<text x="136.1" y="745.8" font-size="33" text-anchor="middle" textLength="54.6" lengthAdjust="spacingAndGlyphs">400</text>
<text x="282.8" y="745.8" font-size="33" text-anchor="middle" textLength="54.6" lengthAdjust="spacingAndGlyphs">800</text>
<text x="429.6" y="745.8" font-size="33" text-anchor="middle" textLength="72.8" lengthAdjust="spacingAndGlyphs">1200</text>
<text x="576.3" y="745.8" font-size="33" text-anchor="middle" textLength="72.8" lengthAdjust="spacingAndGlyphs">1600</text>
<text x="723.0" y="745.8" font-size="33" text-anchor="middle" textLength="72.8" lengthAdjust="spacingAndGlyphs">2000</text>
<text x="869.8" y="745.8" font-size="33" text-anchor="middle" textLength="72.8" lengthAdjust="spacingAndGlyphs">2400</text>
<text x="1016.5" y="745.8" font-size="33" text-anchor="middle" textLength="72.8" lengthAdjust="spacingAndGlyphs">2800</text>
<text x="1163.2" y="745.8" font-size="33" text-anchor="middle" textLength="72.8" lengthAdjust="spacingAndGlyphs">3200</text>
<text x="1310.0" y="745.8" font-size="33" text-anchor="middle" textLength="72.8" lengthAdjust="spacingAndGlyphs">3600</text>
<text x="1456.7" y="745.8" font-size="33" text-anchor="middle" textLength="72.8" lengthAdjust="spacingAndGlyphs">4000</text>
<text class="b" font-size="32" transform="translate(43.1,473.6) rotate(-90)" textLength="213.2" lengthAdjust="spacingAndGlyphs">Absorbance <tspan fill="#00B050">(-)</tspan></text>
<text class="b" font-size="31"><tspan x="662" y="798.3" textLength="240.5" lengthAdjust="spacingAndGlyphs">Wavelength (cm</tspan><tspan x="901.5" y="788.2" font-size="20.5" textLength="19" lengthAdjust="spacingAndGlyphs">-1</tspan><tspan x="921" y="798.3" textLength="9.8" lengthAdjust="spacingAndGlyphs">)</tspan></text>
<line x1="284.1" y1="845.6" x2="352" y2="845.6" stroke="#BE4B48" stroke-width="8.2" stroke-linecap="round"/><text x="359.5" y="856" font-size="31" textLength="75" lengthAdjust="spacingAndGlyphs">A(oil)</text>
<line x1="890.7" y1="845.6" x2="958.7" y2="845.6" stroke="#98B954" stroke-width="8.2" stroke-linecap="round"/><text x="965.7" y="856" font-size="31" textLength="317.5" lengthAdjust="spacingAndGlyphs">A(ASW-60%mw-1min)</text>
<line x1="284.1" y1="892.7" x2="352" y2="892.7" stroke="#7D60A0" stroke-width="8.2" stroke-linecap="round"/><text x="359.5" y="903.1" font-size="31" textLength="323" lengthAdjust="spacingAndGlyphs">A(ADW-60%mw-1min)</text>
<line x1="890.7" y1="892.7" x2="958.7" y2="892.7" stroke="#4A7EBB" stroke-width="8.2" stroke-linecap="round"/><text x="965.7" y="903.1" font-size="31" textLength="317.5" lengthAdjust="spacingAndGlyphs">A(AFW-60%mw-1min)</text>
</svg></body></html>
